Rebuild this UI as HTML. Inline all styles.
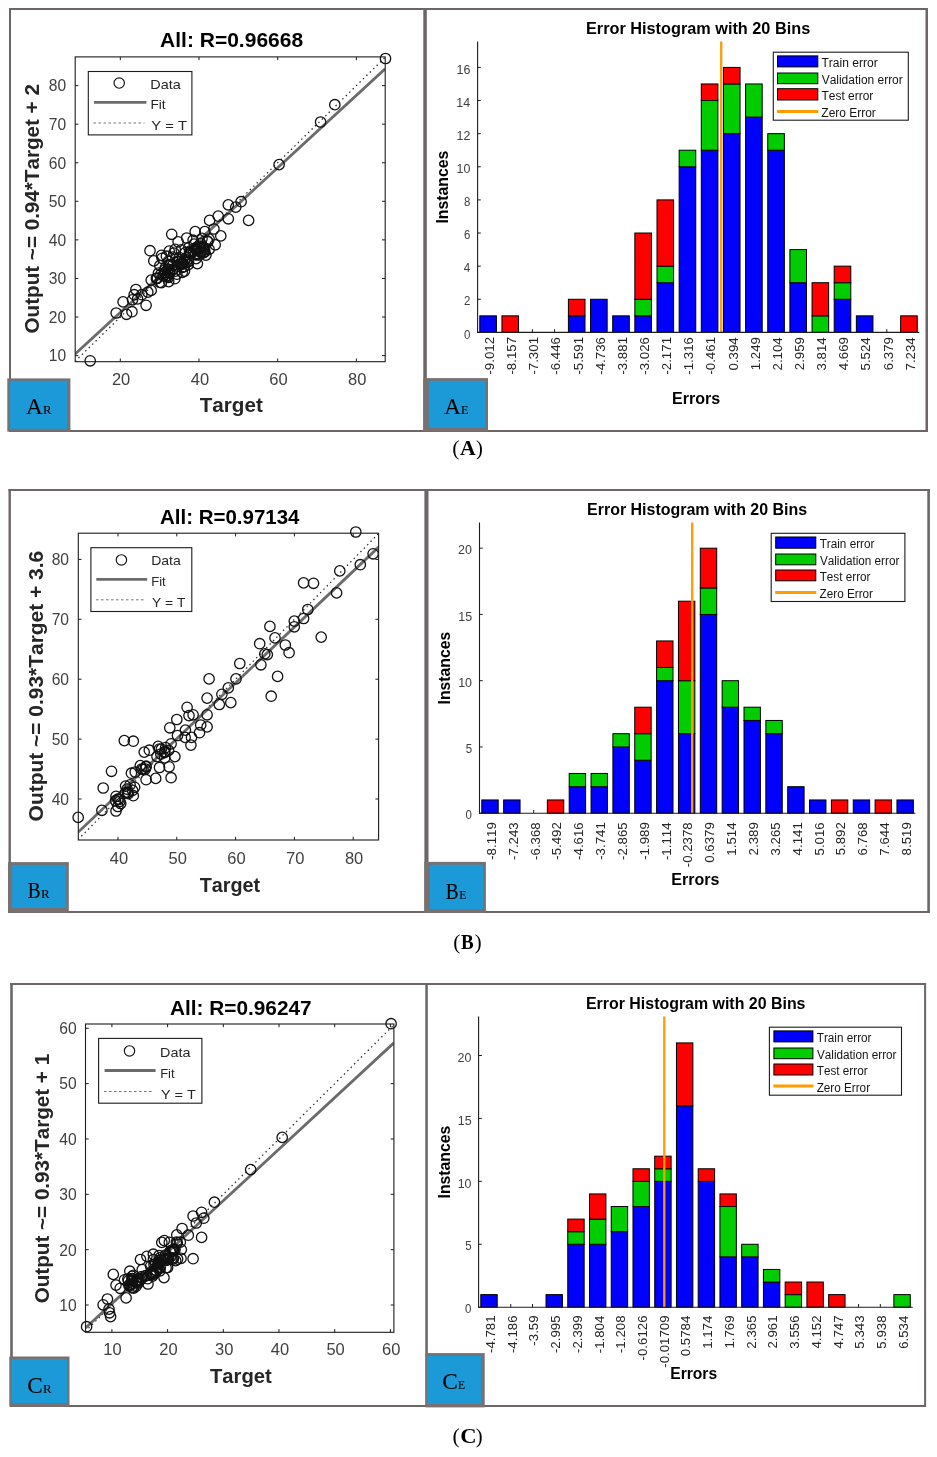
<!DOCTYPE html>
<html><head><meta charset="utf-8"><style>
html,body{margin:0;padding:0;background:#fff;}
svg{display:block;filter:blur(0.4px);}
text{font-kerning:none;}
</style></head><body>
<svg width="937" height="1457" viewBox="0 0 937 1457">
<rect x="0" y="0" width="937" height="1457" fill="#fff"/>
<rect x="9.00" y="8.00" width="919.00" height="2.00" fill="#6d6566"/>
<rect x="9.00" y="430.00" width="919.00" height="2.00" fill="#6d6566"/>
<rect x="9.00" y="8.00" width="2.00" height="424.00" fill="#6d6566"/>
<rect x="925.50" y="8.00" width="2.50" height="424.00" fill="#6d6566"/>
<rect x="423.30" y="8.00" width="3.50" height="424.00" fill="#6d6566"/>
<rect x="8.50" y="489.00" width="921.40" height="2.00" fill="#6d6566"/>
<rect x="8.50" y="911.00" width="921.40" height="2.00" fill="#6d6566"/>
<rect x="8.50" y="489.00" width="2.40" height="424.00" fill="#6d6566"/>
<rect x="927.30" y="489.00" width="2.60" height="424.00" fill="#6d6566"/>
<rect x="424.40" y="489.00" width="4.10" height="424.00" fill="#6d6566"/>
<rect x="10.20" y="983.00" width="915.90" height="2.00" fill="#6d6566"/>
<rect x="10.20" y="1405.00" width="915.90" height="2.00" fill="#6d6566"/>
<rect x="10.20" y="983.00" width="2.60" height="424.00" fill="#6d6566"/>
<rect x="924.10" y="983.00" width="2.00" height="424.00" fill="#6d6566"/>
<rect x="425.30" y="983.00" width="2.50" height="424.00" fill="#6d6566"/>
<clipPath id="ca"><rect x="75.2" y="56.9" width="310.0" height="304.8"/></clipPath>
<g clip-path="url(#ca)">
<line x1="75.05" y1="361.39" x2="385.52" y2="57.07" stroke="#222" stroke-width="1.25" stroke-dasharray="1.4 3.4"/>
<line x1="75.20" y1="354.00" x2="385.20" y2="68.80" stroke="#6b6b6b" stroke-width="2.8" />
</g>
<g fill="none" stroke="#111" stroke-width="1.3"><circle cx="90.2" cy="360.8" r="5.2"/><circle cx="116.2" cy="313.0" r="5.2"/><circle cx="123.1" cy="301.9" r="5.2"/><circle cx="126.5" cy="314.3" r="5.2"/><circle cx="132.0" cy="311.7" r="5.2"/><circle cx="146.1" cy="305.3" r="5.2"/><circle cx="135.9" cy="289.5" r="5.2"/><circle cx="134.2" cy="294.7" r="5.2"/><circle cx="137.6" cy="298.9" r="5.2"/><circle cx="132.5" cy="299.8" r="5.2"/><circle cx="141.8" cy="294.7" r="5.2"/><circle cx="151.2" cy="290.4" r="5.2"/><circle cx="147.8" cy="292.1" r="5.2"/><circle cx="151.2" cy="280.1" r="5.2"/><circle cx="150.0" cy="250.7" r="5.2"/><circle cx="153.8" cy="260.9" r="5.2"/><circle cx="161.5" cy="255.4" r="5.2"/><circle cx="159.8" cy="265.6" r="5.2"/><circle cx="161.5" cy="282.7" r="5.2"/><circle cx="156.4" cy="278.4" r="5.2"/><circle cx="166.6" cy="275.9" r="5.2"/><circle cx="169.2" cy="251.1" r="5.2"/><circle cx="175.2" cy="249.4" r="5.2"/><circle cx="168.3" cy="261.3" r="5.2"/><circle cx="172.6" cy="269.9" r="5.2"/><circle cx="176.9" cy="274.2" r="5.2"/><circle cx="164.9" cy="269.9" r="5.2"/><circle cx="176.9" cy="261.3" r="5.2"/><circle cx="172.6" cy="257.1" r="5.2"/><circle cx="228.3" cy="204.9" r="5.2"/><circle cx="235.8" cy="207.1" r="5.2"/><circle cx="241.1" cy="201.7" r="5.2"/><circle cx="248.6" cy="220.4" r="5.2"/><circle cx="218.2" cy="216.1" r="5.2"/><circle cx="209.6" cy="220.4" r="5.2"/><circle cx="228.3" cy="218.8" r="5.2"/><circle cx="213.9" cy="229.0" r="5.2"/><circle cx="220.8" cy="235.9" r="5.2"/><circle cx="171.7" cy="234.3" r="5.2"/><circle cx="178.1" cy="241.8" r="5.2"/><circle cx="195.2" cy="231.6" r="5.2"/><circle cx="204.8" cy="231.6" r="5.2"/><circle cx="186.7" cy="238.0" r="5.2"/><circle cx="209.1" cy="239.1" r="5.2"/><circle cx="204.8" cy="251.9" r="5.2"/><circle cx="205.9" cy="255.1" r="5.2"/><circle cx="197.4" cy="263.6" r="5.2"/><circle cx="184.5" cy="271.1" r="5.2"/><circle cx="193.1" cy="240.2" r="5.2"/><circle cx="200.6" cy="243.4" r="5.2"/><circle cx="195.2" cy="248.7" r="5.2"/><circle cx="188.8" cy="247.6" r="5.2"/><circle cx="181.3" cy="249.8" r="5.2"/><circle cx="173.9" cy="253.0" r="5.2"/><circle cx="166.4" cy="256.2" r="5.2"/><circle cx="162.1" cy="258.3" r="5.2"/><circle cx="385.5" cy="58.5" r="5.2"/><circle cx="334.8" cy="104.7" r="5.2"/><circle cx="320.6" cy="122.0" r="5.2"/><circle cx="279.1" cy="164.6" r="5.2"/><circle cx="182.3" cy="272.3" r="5.2"/><circle cx="168.7" cy="281.6" r="5.2"/><circle cx="196.8" cy="247.1" r="5.2"/><circle cx="184.3" cy="261.1" r="5.2"/><circle cx="196.1" cy="258.6" r="5.2"/><circle cx="158.4" cy="273.1" r="5.2"/><circle cx="202.5" cy="246.2" r="5.2"/><circle cx="194.2" cy="244.0" r="5.2"/><circle cx="184.3" cy="266.6" r="5.2"/><circle cx="174.8" cy="278.7" r="5.2"/><circle cx="202.0" cy="238.4" r="5.2"/><circle cx="159.8" cy="282.4" r="5.2"/><circle cx="207.5" cy="241.1" r="5.2"/><circle cx="168.9" cy="272.7" r="5.2"/><circle cx="156.8" cy="278.3" r="5.2"/><circle cx="181.6" cy="264.1" r="5.2"/><circle cx="167.9" cy="269.6" r="5.2"/><circle cx="169.4" cy="273.1" r="5.2"/><circle cx="168.9" cy="264.6" r="5.2"/><circle cx="203.8" cy="247.7" r="5.2"/><circle cx="189.6" cy="251.4" r="5.2"/><circle cx="215.2" cy="244.8" r="5.2"/><circle cx="162.9" cy="275.7" r="5.2"/><circle cx="199.1" cy="254.6" r="5.2"/><circle cx="207.8" cy="241.8" r="5.2"/><circle cx="204.5" cy="249.4" r="5.2"/><circle cx="175.3" cy="271.1" r="5.2"/><circle cx="209.1" cy="249.4" r="5.2"/><circle cx="186.2" cy="262.4" r="5.2"/><circle cx="157.3" cy="278.3" r="5.2"/><circle cx="200.2" cy="247.6" r="5.2"/><circle cx="167.8" cy="276.2" r="5.2"/><circle cx="197.7" cy="255.0" r="5.2"/><circle cx="177.6" cy="266.1" r="5.2"/><circle cx="188.2" cy="264.6" r="5.2"/><circle cx="185.1" cy="259.3" r="5.2"/><circle cx="180.2" cy="264.4" r="5.2"/><circle cx="196.9" cy="249.9" r="5.2"/><circle cx="182.4" cy="263.1" r="5.2"/><circle cx="169.9" cy="271.8" r="5.2"/><circle cx="188.5" cy="261.5" r="5.2"/><circle cx="165.0" cy="272.4" r="5.2"/><circle cx="168.6" cy="277.3" r="5.2"/><circle cx="185.3" cy="252.6" r="5.2"/><circle cx="202.8" cy="252.9" r="5.2"/><circle cx="188.1" cy="259.1" r="5.2"/><circle cx="165.2" cy="267.9" r="5.2"/><circle cx="179.3" cy="257.5" r="5.2"/><circle cx="168.1" cy="269.0" r="5.2"/><circle cx="163.8" cy="275.8" r="5.2"/><circle cx="181.8" cy="267.5" r="5.2"/><circle cx="183.2" cy="263.3" r="5.2"/><circle cx="182.7" cy="264.0" r="5.2"/><circle cx="178.3" cy="261.6" r="5.2"/><circle cx="203.6" cy="252.7" r="5.2"/><circle cx="195.6" cy="254.6" r="5.2"/><circle cx="172.7" cy="265.3" r="5.2"/><circle cx="170.5" cy="264.6" r="5.2"/><circle cx="190.6" cy="253.8" r="5.2"/><circle cx="193.5" cy="251.4" r="5.2"/><circle cx="201.0" cy="252.5" r="5.2"/><circle cx="160.9" cy="274.2" r="5.2"/><circle cx="196.5" cy="250.3" r="5.2"/><circle cx="198.5" cy="247.6" r="5.2"/><circle cx="166.7" cy="276.1" r="5.2"/><circle cx="190.1" cy="252.2" r="5.2"/><circle cx="165.0" cy="272.9" r="5.2"/><circle cx="200.6" cy="251.5" r="5.2"/></g>
<rect x="75.2" y="56.9" width="310.0" height="304.8" fill="none" stroke="#1c1c1c" stroke-width="1.1"/>
<line x1="120.30" y1="361.70" x2="120.30" y2="358.50" stroke="#1c1c1c" stroke-width="1" />
<line x1="120.30" y1="56.90" x2="120.30" y2="60.10" stroke="#1c1c1c" stroke-width="1" />
<text x="111.93" y="384.50" font-family="'Liberation Sans', sans-serif" font-size="16.50" font-weight="normal" fill="#404040" textLength="18.35" lengthAdjust="spacingAndGlyphs" >20</text>
<line x1="199.00" y1="361.70" x2="199.00" y2="358.50" stroke="#1c1c1c" stroke-width="1" />
<line x1="199.00" y1="56.90" x2="199.00" y2="60.10" stroke="#1c1c1c" stroke-width="1" />
<text x="190.86" y="384.50" font-family="'Liberation Sans', sans-serif" font-size="16.50" font-weight="normal" fill="#404040" textLength="18.35" lengthAdjust="spacingAndGlyphs" >40</text>
<line x1="277.70" y1="361.70" x2="277.70" y2="358.50" stroke="#1c1c1c" stroke-width="1" />
<line x1="277.70" y1="56.90" x2="277.70" y2="60.10" stroke="#1c1c1c" stroke-width="1" />
<text x="269.33" y="384.50" font-family="'Liberation Sans', sans-serif" font-size="16.50" font-weight="normal" fill="#404040" textLength="18.35" lengthAdjust="spacingAndGlyphs" >60</text>
<line x1="356.40" y1="361.70" x2="356.40" y2="358.50" stroke="#1c1c1c" stroke-width="1" />
<line x1="356.40" y1="56.90" x2="356.40" y2="60.10" stroke="#1c1c1c" stroke-width="1" />
<text x="348.09" y="384.50" font-family="'Liberation Sans', sans-serif" font-size="16.50" font-weight="normal" fill="#404040" textLength="18.35" lengthAdjust="spacingAndGlyphs" >80</text>
<line x1="75.20" y1="355.60" x2="78.40" y2="355.60" stroke="#1c1c1c" stroke-width="1" />
<line x1="385.20" y1="355.60" x2="382.00" y2="355.60" stroke="#1c1c1c" stroke-width="1" />
<text x="48.81" y="361.44" font-family="'Liberation Sans', sans-serif" font-size="16.50" font-weight="normal" fill="#404040" textLength="17.35" lengthAdjust="spacingAndGlyphs" >10</text>
<line x1="75.20" y1="317.03" x2="78.40" y2="317.03" stroke="#1c1c1c" stroke-width="1" />
<line x1="385.20" y1="317.03" x2="382.00" y2="317.03" stroke="#1c1c1c" stroke-width="1" />
<text x="48.79" y="322.87" font-family="'Liberation Sans', sans-serif" font-size="16.50" font-weight="normal" fill="#404040" textLength="17.37" lengthAdjust="spacingAndGlyphs" >20</text>
<line x1="75.20" y1="278.46" x2="78.40" y2="278.46" stroke="#1c1c1c" stroke-width="1" />
<line x1="385.20" y1="278.46" x2="382.00" y2="278.46" stroke="#1c1c1c" stroke-width="1" />
<text x="48.77" y="284.30" font-family="'Liberation Sans', sans-serif" font-size="16.50" font-weight="normal" fill="#404040" textLength="17.39" lengthAdjust="spacingAndGlyphs" >30</text>
<line x1="75.20" y1="239.89" x2="78.40" y2="239.89" stroke="#1c1c1c" stroke-width="1" />
<line x1="385.20" y1="239.89" x2="382.00" y2="239.89" stroke="#1c1c1c" stroke-width="1" />
<text x="48.76" y="245.73" font-family="'Liberation Sans', sans-serif" font-size="16.50" font-weight="normal" fill="#404040" textLength="17.40" lengthAdjust="spacingAndGlyphs" >40</text>
<line x1="75.20" y1="201.32" x2="78.40" y2="201.32" stroke="#1c1c1c" stroke-width="1" />
<line x1="385.20" y1="201.32" x2="382.00" y2="201.32" stroke="#1c1c1c" stroke-width="1" />
<text x="48.78" y="207.16" font-family="'Liberation Sans', sans-serif" font-size="16.50" font-weight="normal" fill="#404040" textLength="17.38" lengthAdjust="spacingAndGlyphs" >50</text>
<line x1="75.20" y1="162.75" x2="78.40" y2="162.75" stroke="#1c1c1c" stroke-width="1" />
<line x1="385.20" y1="162.75" x2="382.00" y2="162.75" stroke="#1c1c1c" stroke-width="1" />
<text x="48.79" y="168.59" font-family="'Liberation Sans', sans-serif" font-size="16.50" font-weight="normal" fill="#404040" textLength="17.37" lengthAdjust="spacingAndGlyphs" >60</text>
<line x1="75.20" y1="124.18" x2="78.40" y2="124.18" stroke="#1c1c1c" stroke-width="1" />
<line x1="385.20" y1="124.18" x2="382.00" y2="124.18" stroke="#1c1c1c" stroke-width="1" />
<text x="48.79" y="130.02" font-family="'Liberation Sans', sans-serif" font-size="16.50" font-weight="normal" fill="#404040" textLength="17.37" lengthAdjust="spacingAndGlyphs" >70</text>
<line x1="75.20" y1="85.61" x2="78.40" y2="85.61" stroke="#1c1c1c" stroke-width="1" />
<line x1="385.20" y1="85.61" x2="382.00" y2="85.61" stroke="#1c1c1c" stroke-width="1" />
<text x="48.78" y="91.45" font-family="'Liberation Sans', sans-serif" font-size="16.50" font-weight="normal" fill="#404040" textLength="17.38" lengthAdjust="spacingAndGlyphs" >80</text>
<rect x="88.3" y="71.5" width="103.60000000000001" height="63.400000000000006" fill="#fff" stroke="#1c1c1c" stroke-width="1.1"/>
<circle cx="119.2" cy="83.0" r="5.2" fill="none" stroke="#111" stroke-width="1.15"/>
<line x1="93.90" y1="102.40" x2="146.40" y2="102.40" stroke="#6b6b6b" stroke-width="2.8" />
<line x1="93.50" y1="123.00" x2="144.50" y2="123.00" stroke="#666" stroke-width="0.9" stroke-dasharray="2.6 2.4"/>
<text x="150.37" y="88.80" font-family="'Liberation Sans', sans-serif" font-size="13.00" font-weight="normal" fill="#262626" textLength="30.48" lengthAdjust="spacingAndGlyphs" >Data</text>
<text x="150.43" y="109.30" font-family="'Liberation Sans', sans-serif" font-size="13.00" font-weight="normal" fill="#262626" textLength="15.12" lengthAdjust="spacingAndGlyphs" >Fit</text>
<text x="151.22" y="129.90" font-family="'Liberation Sans', sans-serif" font-size="13.00" font-weight="normal" fill="#262626" textLength="35.76" lengthAdjust="spacingAndGlyphs" >Y = T</text>
<text x="160.13" y="46.90" font-family="'Liberation Sans', sans-serif" font-size="19.50" font-weight="bold" fill="#000" textLength="142.97" lengthAdjust="spacingAndGlyphs" >All: R=0.96668</text>
<text x="199.72" y="411.80" font-family="'Liberation Sans', sans-serif" font-size="20.50" font-weight="bold" fill="#262626" textLength="63.08" lengthAdjust="spacingAndGlyphs" >Target</text>
<text transform="translate(38.90 332.65) rotate(-90)" x="-0.85" y="0" font-family="'Liberation Sans', sans-serif" font-size="20.50" font-weight="bold" fill="#262626" textLength="249.37" lengthAdjust="spacingAndGlyphs" >Output ~= 0.94*Target + 2</text>
<clipPath id="cb"><rect x="78.3" y="533.2" width="300.3" height="306.79999999999995"/></clipPath>
<g clip-path="url(#cb)">
<line x1="78.02" y1="839.73" x2="378.78" y2="533.34" stroke="#222" stroke-width="1.25" stroke-dasharray="1.4 3.4"/>
<line x1="78.30" y1="832.10" x2="378.60" y2="547.10" stroke="#6b6b6b" stroke-width="2.8" />
</g>
<g fill="none" stroke="#111" stroke-width="1.3"><circle cx="78.2" cy="817.4" r="5.2"/><circle cx="101.9" cy="810.4" r="5.2"/><circle cx="103.2" cy="788.0" r="5.2"/><circle cx="111.5" cy="771.3" r="5.2"/><circle cx="124.3" cy="740.6" r="5.2"/><circle cx="133.3" cy="741.2" r="5.2"/><circle cx="116.0" cy="811.0" r="5.2"/><circle cx="117.9" cy="806.5" r="5.2"/><circle cx="116.0" cy="796.3" r="5.2"/><circle cx="119.8" cy="801.4" r="5.2"/><circle cx="125.6" cy="786.1" r="5.2"/><circle cx="130.1" cy="784.8" r="5.2"/><circle cx="134.6" cy="787.3" r="5.2"/><circle cx="133.3" cy="795.7" r="5.2"/><circle cx="127.5" cy="792.5" r="5.2"/><circle cx="131.4" cy="773.2" r="5.2"/><circle cx="135.2" cy="772.0" r="5.2"/><circle cx="140.3" cy="765.6" r="5.2"/><circle cx="146.1" cy="766.8" r="5.2"/><circle cx="146.1" cy="779.7" r="5.2"/><circle cx="155.7" cy="778.4" r="5.2"/><circle cx="144.2" cy="752.1" r="5.2"/><circle cx="149.3" cy="750.2" r="5.2"/><circle cx="158.2" cy="746.4" r="5.2"/><circle cx="160.8" cy="754.0" r="5.2"/><circle cx="164.7" cy="751.5" r="5.2"/><circle cx="159.5" cy="767.5" r="5.2"/><circle cx="169.1" cy="766.8" r="5.2"/><circle cx="171.1" cy="777.7" r="5.2"/><circle cx="174.9" cy="756.6" r="5.2"/><circle cx="171.1" cy="743.8" r="5.2"/><circle cx="169.8" cy="727.8" r="5.2"/><circle cx="176.8" cy="719.5" r="5.2"/><circle cx="177.5" cy="735.5" r="5.2"/><circle cx="187.1" cy="707.3" r="5.2"/><circle cx="189.0" cy="715.6" r="5.2"/><circle cx="185.1" cy="737.4" r="5.2"/><circle cx="190.9" cy="745.1" r="5.2"/><circle cx="191.5" cy="737.4" r="5.2"/><circle cx="157.0" cy="756.6" r="5.2"/><circle cx="164.7" cy="757.9" r="5.2"/><circle cx="269.9" cy="626.4" r="5.2"/><circle cx="275.0" cy="637.9" r="5.2"/><circle cx="259.7" cy="643.7" r="5.2"/><circle cx="285.3" cy="645.0" r="5.2"/><circle cx="289.1" cy="652.7" r="5.2"/><circle cx="264.8" cy="653.9" r="5.2"/><circle cx="267.3" cy="654.6" r="5.2"/><circle cx="260.9" cy="664.8" r="5.2"/><circle cx="239.8" cy="663.5" r="5.2"/><circle cx="277.6" cy="676.4" r="5.2"/><circle cx="271.2" cy="696.2" r="5.2"/><circle cx="236.0" cy="678.9" r="5.2"/><circle cx="228.3" cy="687.9" r="5.2"/><circle cx="221.9" cy="694.3" r="5.2"/><circle cx="209.1" cy="678.9" r="5.2"/><circle cx="207.1" cy="698.1" r="5.2"/><circle cx="219.3" cy="704.5" r="5.2"/><circle cx="230.8" cy="702.6" r="5.2"/><circle cx="193.1" cy="714.8" r="5.2"/><circle cx="207.1" cy="714.8" r="5.2"/><circle cx="200.7" cy="725.0" r="5.2"/><circle cx="207.1" cy="726.9" r="5.2"/><circle cx="199.5" cy="732.7" r="5.2"/><circle cx="185.4" cy="730.1" r="5.2"/><circle cx="355.8" cy="532.0" r="5.2"/><circle cx="373.1" cy="553.8" r="5.2"/><circle cx="360.3" cy="564.7" r="5.2"/><circle cx="339.8" cy="570.9" r="5.2"/><circle cx="303.6" cy="582.9" r="5.2"/><circle cx="313.5" cy="583.3" r="5.2"/><circle cx="336.6" cy="592.9" r="5.2"/><circle cx="307.8" cy="609.5" r="5.2"/><circle cx="303.6" cy="618.5" r="5.2"/><circle cx="294.3" cy="621.1" r="5.2"/><circle cx="294.3" cy="626.8" r="5.2"/><circle cx="321.2" cy="637.1" r="5.2"/><circle cx="168.6" cy="750.4" r="5.2"/><circle cx="164.6" cy="752.6" r="5.2"/><circle cx="165.6" cy="747.6" r="5.2"/><circle cx="161.4" cy="749.1" r="5.2"/><circle cx="159.3" cy="749.1" r="5.2"/><circle cx="128.3" cy="793.7" r="5.2"/><circle cx="125.3" cy="792.8" r="5.2"/><circle cx="127.1" cy="789.1" r="5.2"/><circle cx="132.6" cy="790.4" r="5.2"/><circle cx="127.9" cy="792.4" r="5.2"/><circle cx="143.1" cy="769.3" r="5.2"/><circle cx="141.7" cy="769.0" r="5.2"/><circle cx="145.3" cy="769.0" r="5.2"/><circle cx="146.1" cy="766.2" r="5.2"/><circle cx="115.5" cy="800.6" r="5.2"/><circle cx="119.1" cy="799.3" r="5.2"/><circle cx="117.8" cy="799.2" r="5.2"/><circle cx="120.7" cy="803.5" r="5.2"/></g>
<rect x="78.3" y="533.2" width="300.3" height="306.79999999999995" fill="none" stroke="#1c1c1c" stroke-width="1.1"/>
<line x1="118.00" y1="840.00" x2="118.00" y2="836.80" stroke="#1c1c1c" stroke-width="1" />
<line x1="118.00" y1="533.20" x2="118.00" y2="536.40" stroke="#1c1c1c" stroke-width="1" />
<text x="109.86" y="863.60" font-family="'Liberation Sans', sans-serif" font-size="16.50" font-weight="normal" fill="#404040" textLength="18.35" lengthAdjust="spacingAndGlyphs" >40</text>
<line x1="176.80" y1="840.00" x2="176.80" y2="836.80" stroke="#1c1c1c" stroke-width="1" />
<line x1="176.80" y1="533.20" x2="176.80" y2="536.40" stroke="#1c1c1c" stroke-width="1" />
<text x="168.52" y="863.60" font-family="'Liberation Sans', sans-serif" font-size="16.50" font-weight="normal" fill="#404040" textLength="18.35" lengthAdjust="spacingAndGlyphs" >50</text>
<line x1="235.60" y1="840.00" x2="235.60" y2="836.80" stroke="#1c1c1c" stroke-width="1" />
<line x1="235.60" y1="533.20" x2="235.60" y2="536.40" stroke="#1c1c1c" stroke-width="1" />
<text x="227.23" y="863.60" font-family="'Liberation Sans', sans-serif" font-size="16.50" font-weight="normal" fill="#404040" textLength="18.35" lengthAdjust="spacingAndGlyphs" >60</text>
<line x1="294.40" y1="840.00" x2="294.40" y2="836.80" stroke="#1c1c1c" stroke-width="1" />
<line x1="294.40" y1="533.20" x2="294.40" y2="536.40" stroke="#1c1c1c" stroke-width="1" />
<text x="286.02" y="863.60" font-family="'Liberation Sans', sans-serif" font-size="16.50" font-weight="normal" fill="#404040" textLength="18.35" lengthAdjust="spacingAndGlyphs" >70</text>
<line x1="353.20" y1="840.00" x2="353.20" y2="836.80" stroke="#1c1c1c" stroke-width="1" />
<line x1="353.20" y1="533.20" x2="353.20" y2="536.40" stroke="#1c1c1c" stroke-width="1" />
<text x="344.89" y="863.60" font-family="'Liberation Sans', sans-serif" font-size="16.50" font-weight="normal" fill="#404040" textLength="18.35" lengthAdjust="spacingAndGlyphs" >80</text>
<line x1="78.30" y1="799.00" x2="81.50" y2="799.00" stroke="#1c1c1c" stroke-width="1" />
<line x1="378.60" y1="799.00" x2="375.40" y2="799.00" stroke="#1c1c1c" stroke-width="1" />
<text x="51.66" y="804.84" font-family="'Liberation Sans', sans-serif" font-size="16.50" font-weight="normal" fill="#404040" textLength="17.40" lengthAdjust="spacingAndGlyphs" >40</text>
<line x1="78.30" y1="739.10" x2="81.50" y2="739.10" stroke="#1c1c1c" stroke-width="1" />
<line x1="378.60" y1="739.10" x2="375.40" y2="739.10" stroke="#1c1c1c" stroke-width="1" />
<text x="51.68" y="744.94" font-family="'Liberation Sans', sans-serif" font-size="16.50" font-weight="normal" fill="#404040" textLength="17.38" lengthAdjust="spacingAndGlyphs" >50</text>
<line x1="78.30" y1="679.20" x2="81.50" y2="679.20" stroke="#1c1c1c" stroke-width="1" />
<line x1="378.60" y1="679.20" x2="375.40" y2="679.20" stroke="#1c1c1c" stroke-width="1" />
<text x="51.69" y="685.04" font-family="'Liberation Sans', sans-serif" font-size="16.50" font-weight="normal" fill="#404040" textLength="17.37" lengthAdjust="spacingAndGlyphs" >60</text>
<line x1="78.30" y1="619.30" x2="81.50" y2="619.30" stroke="#1c1c1c" stroke-width="1" />
<line x1="378.60" y1="619.30" x2="375.40" y2="619.30" stroke="#1c1c1c" stroke-width="1" />
<text x="51.69" y="625.14" font-family="'Liberation Sans', sans-serif" font-size="16.50" font-weight="normal" fill="#404040" textLength="17.37" lengthAdjust="spacingAndGlyphs" >70</text>
<line x1="78.30" y1="559.40" x2="81.50" y2="559.40" stroke="#1c1c1c" stroke-width="1" />
<line x1="378.60" y1="559.40" x2="375.40" y2="559.40" stroke="#1c1c1c" stroke-width="1" />
<text x="51.68" y="565.24" font-family="'Liberation Sans', sans-serif" font-size="16.50" font-weight="normal" fill="#404040" textLength="17.38" lengthAdjust="spacingAndGlyphs" >80</text>
<rect x="90.9" y="547.7" width="100.9" height="63.799999999999955" fill="#fff" stroke="#1c1c1c" stroke-width="1.1"/>
<circle cx="121.4" cy="559.9" r="5.2" fill="none" stroke="#111" stroke-width="1.15"/>
<line x1="96.30" y1="579.40" x2="147.20" y2="579.40" stroke="#6b6b6b" stroke-width="2.8" />
<line x1="96.00" y1="599.80" x2="144.90" y2="599.80" stroke="#666" stroke-width="0.9" stroke-dasharray="2.6 2.4"/>
<text x="151.20" y="565.30" font-family="'Liberation Sans', sans-serif" font-size="13.00" font-weight="normal" fill="#262626" textLength="29.65" lengthAdjust="spacingAndGlyphs" >Data</text>
<text x="151.28" y="586.40" font-family="'Liberation Sans', sans-serif" font-size="13.00" font-weight="normal" fill="#262626" textLength="14.44" lengthAdjust="spacingAndGlyphs" >Fit</text>
<text x="152.05" y="606.80" font-family="'Liberation Sans', sans-serif" font-size="13.00" font-weight="normal" fill="#262626" textLength="33.32" lengthAdjust="spacingAndGlyphs" >Y = T</text>
<text x="160.04" y="523.50" font-family="'Liberation Sans', sans-serif" font-size="19.50" font-weight="bold" fill="#000" textLength="139.42" lengthAdjust="spacingAndGlyphs" >All: R=0.97134</text>
<text x="199.73" y="891.50" font-family="'Liberation Sans', sans-serif" font-size="20.50" font-weight="bold" fill="#262626" textLength="60.46" lengthAdjust="spacingAndGlyphs" >Target</text>
<text transform="translate(42.60 820.55) rotate(-90)" x="-0.86" y="0" font-family="'Liberation Sans', sans-serif" font-size="20.50" font-weight="bold" fill="#262626" textLength="270.62" lengthAdjust="spacingAndGlyphs" >Output ~= 0.93*Target + 3.6</text>
<clipPath id="cc"><rect x="85.5" y="1024.0" width="308.4" height="308.29999999999995"/></clipPath>
<g clip-path="url(#cc)">
<line x1="85.16" y1="1331.56" x2="394.30" y2="1024.43" stroke="#222" stroke-width="1.25" stroke-dasharray="1.4 3.4"/>
<line x1="85.50" y1="1328.00" x2="393.90" y2="1042.90" stroke="#6b6b6b" stroke-width="2.8" />
</g>
<g fill="none" stroke="#111" stroke-width="1.3"><circle cx="86.6" cy="1326.7" r="5.2"/><circle cx="107.4" cy="1299.0" r="5.2"/><circle cx="103.1" cy="1304.8" r="5.2"/><circle cx="109.5" cy="1312.8" r="5.2"/><circle cx="110.6" cy="1316.6" r="5.2"/><circle cx="109.0" cy="1309.1" r="5.2"/><circle cx="113.3" cy="1274.4" r="5.2"/><circle cx="116.0" cy="1285.1" r="5.2"/><circle cx="126.1" cy="1297.9" r="5.2"/><circle cx="120.2" cy="1288.3" r="5.2"/><circle cx="124.5" cy="1279.8" r="5.2"/><circle cx="129.8" cy="1271.2" r="5.2"/><circle cx="136.2" cy="1286.2" r="5.2"/><circle cx="164.0" cy="1277.6" r="5.2"/><circle cx="148.0" cy="1284.0" r="5.2"/><circle cx="140.5" cy="1259.5" r="5.2"/><circle cx="146.9" cy="1256.3" r="5.2"/><circle cx="153.3" cy="1254.2" r="5.2"/><circle cx="161.8" cy="1242.4" r="5.2"/><circle cx="169.3" cy="1242.4" r="5.2"/><circle cx="176.8" cy="1234.9" r="5.2"/><circle cx="182.1" cy="1228.5" r="5.2"/><circle cx="175.7" cy="1260.6" r="5.2"/><circle cx="181.0" cy="1258.4" r="5.2"/><circle cx="170.4" cy="1252.0" r="5.2"/><circle cx="250.7" cy="1169.6" r="5.2"/><circle cx="214.4" cy="1202.2" r="5.2"/><circle cx="201.6" cy="1212.3" r="5.2"/><circle cx="193.1" cy="1216.0" r="5.2"/><circle cx="203.8" cy="1218.2" r="5.2"/><circle cx="196.3" cy="1223.0" r="5.2"/><circle cx="201.6" cy="1237.4" r="5.2"/><circle cx="188.3" cy="1235.2" r="5.2"/><circle cx="164.3" cy="1240.6" r="5.2"/><circle cx="180.3" cy="1242.2" r="5.2"/><circle cx="181.3" cy="1249.6" r="5.2"/><circle cx="193.1" cy="1258.7" r="5.2"/><circle cx="391.1" cy="1023.7" r="5.2"/><circle cx="282.2" cy="1137.4" r="5.2"/><circle cx="142.2" cy="1269.6" r="5.2"/><circle cx="159.1" cy="1255.5" r="5.2"/><circle cx="155.7" cy="1263.8" r="5.2"/><circle cx="131.2" cy="1284.8" r="5.2"/><circle cx="129.4" cy="1284.6" r="5.2"/><circle cx="127.9" cy="1278.9" r="5.2"/><circle cx="154.0" cy="1274.2" r="5.2"/><circle cx="132.0" cy="1278.5" r="5.2"/><circle cx="166.1" cy="1267.7" r="5.2"/><circle cx="158.2" cy="1262.6" r="5.2"/><circle cx="176.4" cy="1242.1" r="5.2"/><circle cx="172.4" cy="1250.0" r="5.2"/><circle cx="132.1" cy="1276.3" r="5.2"/><circle cx="147.7" cy="1278.7" r="5.2"/><circle cx="138.5" cy="1280.8" r="5.2"/><circle cx="161.3" cy="1259.8" r="5.2"/><circle cx="153.4" cy="1259.5" r="5.2"/><circle cx="128.4" cy="1280.8" r="5.2"/><circle cx="164.1" cy="1258.9" r="5.2"/><circle cx="145.8" cy="1275.5" r="5.2"/><circle cx="150.6" cy="1266.3" r="5.2"/><circle cx="172.8" cy="1257.8" r="5.2"/><circle cx="141.9" cy="1278.2" r="5.2"/><circle cx="159.9" cy="1270.8" r="5.2"/><circle cx="165.4" cy="1255.1" r="5.2"/><circle cx="177.3" cy="1242.9" r="5.2"/><circle cx="153.0" cy="1273.6" r="5.2"/><circle cx="136.1" cy="1280.8" r="5.2"/><circle cx="131.7" cy="1287.6" r="5.2"/><circle cx="170.0" cy="1257.4" r="5.2"/><circle cx="173.5" cy="1249.6" r="5.2"/><circle cx="166.4" cy="1260.4" r="5.2"/><circle cx="158.9" cy="1263.2" r="5.2"/><circle cx="177.6" cy="1259.1" r="5.2"/><circle cx="155.2" cy="1270.1" r="5.2"/><circle cx="133.2" cy="1287.2" r="5.2"/><circle cx="167.6" cy="1267.5" r="5.2"/><circle cx="170.3" cy="1251.4" r="5.2"/><circle cx="150.4" cy="1273.7" r="5.2"/><circle cx="128.9" cy="1285.6" r="5.2"/><circle cx="133.4" cy="1275.4" r="5.2"/><circle cx="133.7" cy="1288.1" r="5.2"/><circle cx="132.6" cy="1278.6" r="5.2"/><circle cx="152.6" cy="1276.1" r="5.2"/><circle cx="131.9" cy="1283.1" r="5.2"/><circle cx="157.8" cy="1267.8" r="5.2"/><circle cx="175.0" cy="1249.5" r="5.2"/><circle cx="168.4" cy="1259.2" r="5.2"/><circle cx="160.2" cy="1257.6" r="5.2"/><circle cx="132.6" cy="1280.2" r="5.2"/><circle cx="164.9" cy="1256.1" r="5.2"/><circle cx="154.0" cy="1264.5" r="5.2"/><circle cx="173.5" cy="1258.6" r="5.2"/><circle cx="153.3" cy="1273.2" r="5.2"/><circle cx="136.6" cy="1282.6" r="5.2"/><circle cx="170.3" cy="1251.1" r="5.2"/><circle cx="164.8" cy="1259.9" r="5.2"/><circle cx="174.3" cy="1249.1" r="5.2"/><circle cx="159.0" cy="1267.9" r="5.2"/><circle cx="160.3" cy="1260.0" r="5.2"/><circle cx="138.3" cy="1283.0" r="5.2"/><circle cx="156.6" cy="1270.9" r="5.2"/><circle cx="140.3" cy="1280.0" r="5.2"/><circle cx="171.8" cy="1259.4" r="5.2"/><circle cx="132.1" cy="1280.4" r="5.2"/><circle cx="135.8" cy="1282.4" r="5.2"/><circle cx="150.9" cy="1274.4" r="5.2"/><circle cx="150.8" cy="1272.3" r="5.2"/><circle cx="170.4" cy="1252.1" r="5.2"/><circle cx="160.2" cy="1267.9" r="5.2"/><circle cx="155.4" cy="1264.0" r="5.2"/><circle cx="145.9" cy="1275.8" r="5.2"/><circle cx="141.5" cy="1276.7" r="5.2"/><circle cx="157.9" cy="1264.7" r="5.2"/><circle cx="138.9" cy="1279.2" r="5.2"/></g>
<rect x="85.5" y="1024.0" width="308.4" height="308.29999999999995" fill="none" stroke="#1c1c1c" stroke-width="1.1"/>
<line x1="111.90" y1="1332.30" x2="111.90" y2="1329.10" stroke="#1c1c1c" stroke-width="1" />
<line x1="111.90" y1="1024.00" x2="111.90" y2="1027.20" stroke="#1c1c1c" stroke-width="1" />
<text x="103.32" y="1354.90" font-family="'Liberation Sans', sans-serif" font-size="16.50" font-weight="normal" fill="#404040" textLength="18.35" lengthAdjust="spacingAndGlyphs" >10</text>
<line x1="167.60" y1="1332.30" x2="167.60" y2="1329.10" stroke="#1c1c1c" stroke-width="1" />
<line x1="167.60" y1="1024.00" x2="167.60" y2="1027.20" stroke="#1c1c1c" stroke-width="1" />
<text x="159.23" y="1354.90" font-family="'Liberation Sans', sans-serif" font-size="16.50" font-weight="normal" fill="#404040" textLength="18.35" lengthAdjust="spacingAndGlyphs" >20</text>
<line x1="223.30" y1="1332.30" x2="223.30" y2="1329.10" stroke="#1c1c1c" stroke-width="1" />
<line x1="223.30" y1="1024.00" x2="223.30" y2="1027.20" stroke="#1c1c1c" stroke-width="1" />
<text x="215.03" y="1354.90" font-family="'Liberation Sans', sans-serif" font-size="16.50" font-weight="normal" fill="#404040" textLength="18.35" lengthAdjust="spacingAndGlyphs" >30</text>
<line x1="279.00" y1="1332.30" x2="279.00" y2="1329.10" stroke="#1c1c1c" stroke-width="1" />
<line x1="279.00" y1="1024.00" x2="279.00" y2="1027.20" stroke="#1c1c1c" stroke-width="1" />
<text x="270.86" y="1354.90" font-family="'Liberation Sans', sans-serif" font-size="16.50" font-weight="normal" fill="#404040" textLength="18.35" lengthAdjust="spacingAndGlyphs" >40</text>
<line x1="334.70" y1="1332.30" x2="334.70" y2="1329.10" stroke="#1c1c1c" stroke-width="1" />
<line x1="334.70" y1="1024.00" x2="334.70" y2="1027.20" stroke="#1c1c1c" stroke-width="1" />
<text x="326.42" y="1354.90" font-family="'Liberation Sans', sans-serif" font-size="16.50" font-weight="normal" fill="#404040" textLength="18.35" lengthAdjust="spacingAndGlyphs" >50</text>
<line x1="390.40" y1="1332.30" x2="390.40" y2="1329.10" stroke="#1c1c1c" stroke-width="1" />
<line x1="390.40" y1="1024.00" x2="390.40" y2="1027.20" stroke="#1c1c1c" stroke-width="1" />
<text x="382.03" y="1354.90" font-family="'Liberation Sans', sans-serif" font-size="16.50" font-weight="normal" fill="#404040" textLength="18.35" lengthAdjust="spacingAndGlyphs" >60</text>
<line x1="85.50" y1="1305.00" x2="88.70" y2="1305.00" stroke="#1c1c1c" stroke-width="1" />
<line x1="393.90" y1="1305.00" x2="390.70" y2="1305.00" stroke="#1c1c1c" stroke-width="1" />
<text x="59.31" y="1310.84" font-family="'Liberation Sans', sans-serif" font-size="16.50" font-weight="normal" fill="#404040" textLength="17.35" lengthAdjust="spacingAndGlyphs" >10</text>
<line x1="85.50" y1="1249.66" x2="88.70" y2="1249.66" stroke="#1c1c1c" stroke-width="1" />
<line x1="393.90" y1="1249.66" x2="390.70" y2="1249.66" stroke="#1c1c1c" stroke-width="1" />
<text x="59.29" y="1255.50" font-family="'Liberation Sans', sans-serif" font-size="16.50" font-weight="normal" fill="#404040" textLength="17.37" lengthAdjust="spacingAndGlyphs" >20</text>
<line x1="85.50" y1="1194.32" x2="88.70" y2="1194.32" stroke="#1c1c1c" stroke-width="1" />
<line x1="393.90" y1="1194.32" x2="390.70" y2="1194.32" stroke="#1c1c1c" stroke-width="1" />
<text x="59.27" y="1200.16" font-family="'Liberation Sans', sans-serif" font-size="16.50" font-weight="normal" fill="#404040" textLength="17.39" lengthAdjust="spacingAndGlyphs" >30</text>
<line x1="85.50" y1="1138.98" x2="88.70" y2="1138.98" stroke="#1c1c1c" stroke-width="1" />
<line x1="393.90" y1="1138.98" x2="390.70" y2="1138.98" stroke="#1c1c1c" stroke-width="1" />
<text x="59.26" y="1144.82" font-family="'Liberation Sans', sans-serif" font-size="16.50" font-weight="normal" fill="#404040" textLength="17.40" lengthAdjust="spacingAndGlyphs" >40</text>
<line x1="85.50" y1="1083.64" x2="88.70" y2="1083.64" stroke="#1c1c1c" stroke-width="1" />
<line x1="393.90" y1="1083.64" x2="390.70" y2="1083.64" stroke="#1c1c1c" stroke-width="1" />
<text x="59.28" y="1089.48" font-family="'Liberation Sans', sans-serif" font-size="16.50" font-weight="normal" fill="#404040" textLength="17.38" lengthAdjust="spacingAndGlyphs" >50</text>
<line x1="85.50" y1="1028.30" x2="88.70" y2="1028.30" stroke="#1c1c1c" stroke-width="1" />
<line x1="393.90" y1="1028.30" x2="390.70" y2="1028.30" stroke="#1c1c1c" stroke-width="1" />
<text x="59.29" y="1034.14" font-family="'Liberation Sans', sans-serif" font-size="16.50" font-weight="normal" fill="#404040" textLength="17.37" lengthAdjust="spacingAndGlyphs" >60</text>
<rect x="98.6" y="1038.4" width="103.30000000000001" height="64.79999999999995" fill="#fff" stroke="#1c1c1c" stroke-width="1.1"/>
<circle cx="129.5" cy="1050.9" r="5.2" fill="none" stroke="#111" stroke-width="1.15"/>
<line x1="104.60" y1="1070.50" x2="155.60" y2="1070.50" stroke="#6b6b6b" stroke-width="2.8" />
<line x1="104.00" y1="1091.50" x2="153.00" y2="1091.50" stroke="#666" stroke-width="0.9" stroke-dasharray="2.6 2.4"/>
<text x="160.07" y="1056.70" font-family="'Liberation Sans', sans-serif" font-size="13.00" font-weight="normal" fill="#262626" textLength="30.38" lengthAdjust="spacingAndGlyphs" >Data</text>
<text x="160.18" y="1077.60" font-family="'Liberation Sans', sans-serif" font-size="13.00" font-weight="normal" fill="#262626" textLength="14.44" lengthAdjust="spacingAndGlyphs" >Fit</text>
<text x="160.93" y="1098.50" font-family="'Liberation Sans', sans-serif" font-size="13.00" font-weight="normal" fill="#262626" textLength="35.05" lengthAdjust="spacingAndGlyphs" >Y = T</text>
<text x="169.93" y="1014.80" font-family="'Liberation Sans', sans-serif" font-size="19.50" font-weight="bold" fill="#000" textLength="141.73" lengthAdjust="spacingAndGlyphs" >All: R=0.96247</text>
<text x="209.92" y="1382.50" font-family="'Liberation Sans', sans-serif" font-size="20.50" font-weight="bold" fill="#262626" textLength="61.87" lengthAdjust="spacingAndGlyphs" >Target</text>
<text transform="translate(49.30 1302.45) rotate(-90)" x="-0.85" y="0" font-family="'Liberation Sans', sans-serif" font-size="20.50" font-weight="bold" fill="#262626" textLength="249.42" lengthAdjust="spacingAndGlyphs" >Output ~= 0.93*Target + 1</text>
<line x1="488.10" y1="332.40" x2="488.10" y2="329.20" stroke="#1c1c1c" stroke-width="1" />
<line x1="510.25" y1="332.40" x2="510.25" y2="329.20" stroke="#1c1c1c" stroke-width="1" />
<line x1="532.40" y1="332.40" x2="532.40" y2="329.20" stroke="#1c1c1c" stroke-width="1" />
<line x1="554.55" y1="332.40" x2="554.55" y2="329.20" stroke="#1c1c1c" stroke-width="1" />
<line x1="576.70" y1="332.40" x2="576.70" y2="329.20" stroke="#1c1c1c" stroke-width="1" />
<line x1="598.85" y1="332.40" x2="598.85" y2="329.20" stroke="#1c1c1c" stroke-width="1" />
<line x1="621.00" y1="332.40" x2="621.00" y2="329.20" stroke="#1c1c1c" stroke-width="1" />
<line x1="643.15" y1="332.40" x2="643.15" y2="329.20" stroke="#1c1c1c" stroke-width="1" />
<line x1="665.30" y1="332.40" x2="665.30" y2="329.20" stroke="#1c1c1c" stroke-width="1" />
<line x1="687.45" y1="332.40" x2="687.45" y2="329.20" stroke="#1c1c1c" stroke-width="1" />
<line x1="709.60" y1="332.40" x2="709.60" y2="329.20" stroke="#1c1c1c" stroke-width="1" />
<line x1="731.75" y1="332.40" x2="731.75" y2="329.20" stroke="#1c1c1c" stroke-width="1" />
<line x1="753.90" y1="332.40" x2="753.90" y2="329.20" stroke="#1c1c1c" stroke-width="1" />
<line x1="776.05" y1="332.40" x2="776.05" y2="329.20" stroke="#1c1c1c" stroke-width="1" />
<line x1="798.20" y1="332.40" x2="798.20" y2="329.20" stroke="#1c1c1c" stroke-width="1" />
<line x1="820.35" y1="332.40" x2="820.35" y2="329.20" stroke="#1c1c1c" stroke-width="1" />
<line x1="842.50" y1="332.40" x2="842.50" y2="329.20" stroke="#1c1c1c" stroke-width="1" />
<line x1="864.65" y1="332.40" x2="864.65" y2="329.20" stroke="#1c1c1c" stroke-width="1" />
<line x1="886.80" y1="332.40" x2="886.80" y2="329.20" stroke="#1c1c1c" stroke-width="1" />
<line x1="908.95" y1="332.40" x2="908.95" y2="329.20" stroke="#1c1c1c" stroke-width="1" />
<rect x="479.80" y="315.84" width="16.60" height="16.56" fill="#0000ff" stroke="#000" stroke-width="1"/>
<rect x="501.95" y="315.84" width="16.60" height="16.56" fill="#ff0000" stroke="#000" stroke-width="1"/>
<rect x="568.40" y="315.84" width="16.60" height="16.56" fill="#0000ff" stroke="#000" stroke-width="1"/>
<rect x="568.40" y="299.27" width="16.60" height="16.56" fill="#ff0000" stroke="#000" stroke-width="1"/>
<rect x="590.55" y="299.27" width="16.60" height="33.12" fill="#0000ff" stroke="#000" stroke-width="1"/>
<rect x="612.70" y="315.84" width="16.60" height="16.56" fill="#0000ff" stroke="#000" stroke-width="1"/>
<rect x="634.85" y="315.84" width="16.60" height="16.56" fill="#0000ff" stroke="#000" stroke-width="1"/>
<rect x="634.85" y="299.27" width="16.60" height="16.56" fill="#00cc00" stroke="#000" stroke-width="1"/>
<rect x="634.85" y="233.02" width="16.60" height="66.25" fill="#ff0000" stroke="#000" stroke-width="1"/>
<rect x="657.00" y="282.71" width="16.60" height="49.69" fill="#0000ff" stroke="#000" stroke-width="1"/>
<rect x="657.00" y="266.15" width="16.60" height="16.56" fill="#00cc00" stroke="#000" stroke-width="1"/>
<rect x="657.00" y="199.90" width="16.60" height="66.25" fill="#ff0000" stroke="#000" stroke-width="1"/>
<rect x="679.15" y="166.77" width="16.60" height="165.62" fill="#0000ff" stroke="#000" stroke-width="1"/>
<rect x="679.15" y="150.21" width="16.60" height="16.56" fill="#00cc00" stroke="#000" stroke-width="1"/>
<rect x="701.30" y="150.21" width="16.60" height="182.19" fill="#0000ff" stroke="#000" stroke-width="1"/>
<rect x="701.30" y="100.52" width="16.60" height="49.69" fill="#00cc00" stroke="#000" stroke-width="1"/>
<rect x="701.30" y="83.96" width="16.60" height="16.56" fill="#ff0000" stroke="#000" stroke-width="1"/>
<rect x="723.45" y="133.65" width="16.60" height="198.75" fill="#0000ff" stroke="#000" stroke-width="1"/>
<rect x="723.45" y="83.96" width="16.60" height="49.69" fill="#00cc00" stroke="#000" stroke-width="1"/>
<rect x="723.45" y="67.40" width="16.60" height="16.56" fill="#ff0000" stroke="#000" stroke-width="1"/>
<rect x="745.60" y="117.09" width="16.60" height="215.31" fill="#0000ff" stroke="#000" stroke-width="1"/>
<rect x="745.60" y="83.96" width="16.60" height="33.12" fill="#00cc00" stroke="#000" stroke-width="1"/>
<rect x="767.75" y="150.21" width="16.60" height="182.19" fill="#0000ff" stroke="#000" stroke-width="1"/>
<rect x="767.75" y="133.65" width="16.60" height="16.56" fill="#00cc00" stroke="#000" stroke-width="1"/>
<rect x="789.90" y="282.71" width="16.60" height="49.69" fill="#0000ff" stroke="#000" stroke-width="1"/>
<rect x="789.90" y="249.59" width="16.60" height="33.12" fill="#00cc00" stroke="#000" stroke-width="1"/>
<rect x="812.05" y="315.84" width="16.60" height="16.56" fill="#00cc00" stroke="#000" stroke-width="1"/>
<rect x="812.05" y="282.71" width="16.60" height="33.12" fill="#ff0000" stroke="#000" stroke-width="1"/>
<rect x="834.20" y="299.27" width="16.60" height="33.12" fill="#0000ff" stroke="#000" stroke-width="1"/>
<rect x="834.20" y="282.71" width="16.60" height="16.56" fill="#00cc00" stroke="#000" stroke-width="1"/>
<rect x="834.20" y="266.15" width="16.60" height="16.56" fill="#ff0000" stroke="#000" stroke-width="1"/>
<rect x="856.35" y="315.84" width="16.60" height="16.56" fill="#0000ff" stroke="#000" stroke-width="1"/>
<rect x="900.65" y="315.84" width="16.60" height="16.56" fill="#ff0000" stroke="#000" stroke-width="1"/>
<line x1="721.20" y1="41.40" x2="721.20" y2="332.40" stroke="#ff9c00" stroke-width="2.3" />
<line x1="477.60" y1="41.40" x2="477.60" y2="332.90" stroke="#1c1c1c" stroke-width="1.1" />
<line x1="477.10" y1="332.40" x2="919.30" y2="332.40" stroke="#1c1c1c" stroke-width="1.1" />
<line x1="477.60" y1="332.40" x2="480.80" y2="332.40" stroke="#1c1c1c" stroke-width="1" />
<text x="463.90" y="338.59" font-family="'Liberation Sans', sans-serif" font-size="12.40" font-weight="normal" fill="#404040" textLength="6.40" lengthAdjust="spacingAndGlyphs" >0</text>
<line x1="477.60" y1="299.27" x2="480.80" y2="299.27" stroke="#1c1c1c" stroke-width="1" />
<text x="464.07" y="305.46" font-family="'Liberation Sans', sans-serif" font-size="12.40" font-weight="normal" fill="#404040" textLength="6.35" lengthAdjust="spacingAndGlyphs" >2</text>
<line x1="477.60" y1="266.15" x2="480.80" y2="266.15" stroke="#1c1c1c" stroke-width="1" />
<text x="463.74" y="272.34" font-family="'Liberation Sans', sans-serif" font-size="12.40" font-weight="normal" fill="#404040" textLength="6.45" lengthAdjust="spacingAndGlyphs" >4</text>
<line x1="477.60" y1="233.02" x2="480.80" y2="233.02" stroke="#1c1c1c" stroke-width="1" />
<text x="463.99" y="239.21" font-family="'Liberation Sans', sans-serif" font-size="12.40" font-weight="normal" fill="#404040" textLength="6.36" lengthAdjust="spacingAndGlyphs" >6</text>
<line x1="477.60" y1="199.90" x2="480.80" y2="199.90" stroke="#1c1c1c" stroke-width="1" />
<text x="463.97" y="206.09" font-family="'Liberation Sans', sans-serif" font-size="12.40" font-weight="normal" fill="#404040" textLength="6.38" lengthAdjust="spacingAndGlyphs" >8</text>
<line x1="477.60" y1="166.77" x2="480.80" y2="166.77" stroke="#1c1c1c" stroke-width="1" />
<text x="456.45" y="172.96" font-family="'Liberation Sans', sans-serif" font-size="12.40" font-weight="normal" fill="#404040" textLength="13.89" lengthAdjust="spacingAndGlyphs" >10</text>
<line x1="477.60" y1="133.65" x2="480.80" y2="133.65" stroke="#1c1c1c" stroke-width="1" />
<text x="456.60" y="139.84" font-family="'Liberation Sans', sans-serif" font-size="12.40" font-weight="normal" fill="#404040" textLength="13.88" lengthAdjust="spacingAndGlyphs" >12</text>
<line x1="477.60" y1="100.52" x2="480.80" y2="100.52" stroke="#1c1c1c" stroke-width="1" />
<text x="456.31" y="106.71" font-family="'Liberation Sans', sans-serif" font-size="12.40" font-weight="normal" fill="#404040" textLength="13.90" lengthAdjust="spacingAndGlyphs" >14</text>
<line x1="477.60" y1="67.40" x2="480.80" y2="67.40" stroke="#1c1c1c" stroke-width="1" />
<text x="456.51" y="73.59" font-family="'Liberation Sans', sans-serif" font-size="12.40" font-weight="normal" fill="#404040" textLength="13.89" lengthAdjust="spacingAndGlyphs" >16</text>
<text transform="translate(493.90 374.01) rotate(-90)" x="-0.59" y="0" font-family="'Liberation Sans', sans-serif" font-size="12.40" font-weight="normal" fill="#262626" textLength="37.62" lengthAdjust="spacingAndGlyphs" >-9.012</text>
<text transform="translate(516.05 374.01) rotate(-90)" x="-0.59" y="0" font-family="'Liberation Sans', sans-serif" font-size="12.40" font-weight="normal" fill="#262626" textLength="37.62" lengthAdjust="spacingAndGlyphs" >-8.157</text>
<text transform="translate(538.20 374.03) rotate(-90)" x="-0.59" y="0" font-family="'Liberation Sans', sans-serif" font-size="12.40" font-weight="normal" fill="#262626" textLength="37.62" lengthAdjust="spacingAndGlyphs" >-7.301</text>
<text transform="translate(560.35 374.10) rotate(-90)" x="-0.59" y="0" font-family="'Liberation Sans', sans-serif" font-size="12.40" font-weight="normal" fill="#262626" textLength="37.62" lengthAdjust="spacingAndGlyphs" >-6.446</text>
<text transform="translate(582.50 374.03) rotate(-90)" x="-0.59" y="0" font-family="'Liberation Sans', sans-serif" font-size="12.40" font-weight="normal" fill="#262626" textLength="37.62" lengthAdjust="spacingAndGlyphs" >-5.591</text>
<text transform="translate(604.65 374.10) rotate(-90)" x="-0.59" y="0" font-family="'Liberation Sans', sans-serif" font-size="12.40" font-weight="normal" fill="#262626" textLength="37.62" lengthAdjust="spacingAndGlyphs" >-4.736</text>
<text transform="translate(626.80 374.03) rotate(-90)" x="-0.59" y="0" font-family="'Liberation Sans', sans-serif" font-size="12.40" font-weight="normal" fill="#262626" textLength="37.62" lengthAdjust="spacingAndGlyphs" >-3.881</text>
<text transform="translate(648.95 374.10) rotate(-90)" x="-0.59" y="0" font-family="'Liberation Sans', sans-serif" font-size="12.40" font-weight="normal" fill="#262626" textLength="37.62" lengthAdjust="spacingAndGlyphs" >-3.026</text>
<text transform="translate(671.10 374.03) rotate(-90)" x="-0.59" y="0" font-family="'Liberation Sans', sans-serif" font-size="12.40" font-weight="normal" fill="#262626" textLength="37.62" lengthAdjust="spacingAndGlyphs" >-2.171</text>
<text transform="translate(693.25 374.10) rotate(-90)" x="-0.59" y="0" font-family="'Liberation Sans', sans-serif" font-size="12.40" font-weight="normal" fill="#262626" textLength="37.62" lengthAdjust="spacingAndGlyphs" >-1.316</text>
<text transform="translate(715.40 374.03) rotate(-90)" x="-0.59" y="0" font-family="'Liberation Sans', sans-serif" font-size="12.40" font-weight="normal" fill="#262626" textLength="37.62" lengthAdjust="spacingAndGlyphs" >-0.461</text>
<text transform="translate(737.55 369.95) rotate(-90)" x="-0.52" y="0" font-family="'Liberation Sans', sans-serif" font-size="12.40" font-weight="normal" fill="#262626" textLength="33.20" lengthAdjust="spacingAndGlyphs" >0.394</text>
<text transform="translate(759.70 369.21) rotate(-90)" x="-1.01" y="0" font-family="'Liberation Sans', sans-serif" font-size="12.40" font-weight="normal" fill="#262626" textLength="33.20" lengthAdjust="spacingAndGlyphs" >1.249</text>
<text transform="translate(781.85 369.80) rotate(-90)" x="-0.67" y="0" font-family="'Liberation Sans', sans-serif" font-size="12.40" font-weight="normal" fill="#262626" textLength="33.20" lengthAdjust="spacingAndGlyphs" >2.104</text>
<text transform="translate(804.00 369.56) rotate(-90)" x="-0.67" y="0" font-family="'Liberation Sans', sans-serif" font-size="12.40" font-weight="normal" fill="#262626" textLength="33.20" lengthAdjust="spacingAndGlyphs" >2.959</text>
<text transform="translate(826.15 369.96) rotate(-90)" x="-0.51" y="0" font-family="'Liberation Sans', sans-serif" font-size="12.40" font-weight="normal" fill="#262626" textLength="33.20" lengthAdjust="spacingAndGlyphs" >3.814</text>
<text transform="translate(848.30 369.92) rotate(-90)" x="-0.30" y="0" font-family="'Liberation Sans', sans-serif" font-size="12.40" font-weight="normal" fill="#262626" textLength="33.20" lengthAdjust="spacingAndGlyphs" >4.669</text>
<text transform="translate(870.45 369.93) rotate(-90)" x="-0.53" y="0" font-family="'Liberation Sans', sans-serif" font-size="12.40" font-weight="normal" fill="#262626" textLength="33.20" lengthAdjust="spacingAndGlyphs" >5.524</text>
<text transform="translate(892.60 369.55) rotate(-90)" x="-0.67" y="0" font-family="'Liberation Sans', sans-serif" font-size="12.40" font-weight="normal" fill="#262626" textLength="33.20" lengthAdjust="spacingAndGlyphs" >6.379</text>
<text transform="translate(914.75 369.78) rotate(-90)" x="-0.68" y="0" font-family="'Liberation Sans', sans-serif" font-size="12.40" font-weight="normal" fill="#262626" textLength="33.20" lengthAdjust="spacingAndGlyphs" >7.234</text>
<rect x="773.3" y="52.2" width="135.0" height="68.0" fill="#fff" stroke="#1c1c1c" stroke-width="1.1"/>
<rect x="777.50" y="55.90" width="40.30" height="11.00" fill="#0000ff" stroke="#000" stroke-width="1"/>
<rect x="777.50" y="73.00" width="40.30" height="10.70" fill="#00cc00" stroke="#000" stroke-width="1"/>
<rect x="777.50" y="88.70" width="40.30" height="11.30" fill="#ff0000" stroke="#000" stroke-width="1"/>
<line x1="777.00" y1="111.40" x2="818.30" y2="111.40" stroke="#ff9c00" stroke-width="3" />
<text x="821.48" y="67.10" font-family="'Liberation Sans', sans-serif" font-size="12.00" font-weight="normal" fill="#141414" textLength="56.17" lengthAdjust="spacingAndGlyphs" >Train error</text>
<text x="821.70" y="84.00" font-family="'Liberation Sans', sans-serif" font-size="12.00" font-weight="normal" fill="#141414" textLength="81.05" lengthAdjust="spacingAndGlyphs" >Validation error</text>
<text x="821.48" y="100.10" font-family="'Liberation Sans', sans-serif" font-size="12.00" font-weight="normal" fill="#141414" textLength="51.80" lengthAdjust="spacingAndGlyphs" >Test error</text>
<text x="821.37" y="117.10" font-family="'Liberation Sans', sans-serif" font-size="12.00" font-weight="normal" fill="#141414" textLength="54.46" lengthAdjust="spacingAndGlyphs" >Zero Error</text>
<text x="585.96" y="34.40" font-family="'Liberation Sans', sans-serif" font-size="16.00" font-weight="bold" fill="#000" textLength="224.26" lengthAdjust="spacingAndGlyphs" >Error Histogram with 20 Bins</text>
<text x="672.08" y="403.90" font-family="'Liberation Sans', sans-serif" font-size="15.80" font-weight="bold" fill="#000" textLength="48.13" lengthAdjust="spacingAndGlyphs" >Errors</text>
<text transform="translate(447.70 222.55) rotate(-90)" x="-1.06" y="0" font-family="'Liberation Sans', sans-serif" font-size="15.80" font-weight="bold" fill="#000" textLength="73.01" lengthAdjust="spacingAndGlyphs" >Instances</text>
<line x1="490.00" y1="813.20" x2="490.00" y2="810.00" stroke="#1c1c1c" stroke-width="1" />
<line x1="511.85" y1="813.20" x2="511.85" y2="810.00" stroke="#1c1c1c" stroke-width="1" />
<line x1="533.70" y1="813.20" x2="533.70" y2="810.00" stroke="#1c1c1c" stroke-width="1" />
<line x1="555.55" y1="813.20" x2="555.55" y2="810.00" stroke="#1c1c1c" stroke-width="1" />
<line x1="577.40" y1="813.20" x2="577.40" y2="810.00" stroke="#1c1c1c" stroke-width="1" />
<line x1="599.25" y1="813.20" x2="599.25" y2="810.00" stroke="#1c1c1c" stroke-width="1" />
<line x1="621.10" y1="813.20" x2="621.10" y2="810.00" stroke="#1c1c1c" stroke-width="1" />
<line x1="642.95" y1="813.20" x2="642.95" y2="810.00" stroke="#1c1c1c" stroke-width="1" />
<line x1="664.80" y1="813.20" x2="664.80" y2="810.00" stroke="#1c1c1c" stroke-width="1" />
<line x1="686.65" y1="813.20" x2="686.65" y2="810.00" stroke="#1c1c1c" stroke-width="1" />
<line x1="708.50" y1="813.20" x2="708.50" y2="810.00" stroke="#1c1c1c" stroke-width="1" />
<line x1="730.35" y1="813.20" x2="730.35" y2="810.00" stroke="#1c1c1c" stroke-width="1" />
<line x1="752.20" y1="813.20" x2="752.20" y2="810.00" stroke="#1c1c1c" stroke-width="1" />
<line x1="774.05" y1="813.20" x2="774.05" y2="810.00" stroke="#1c1c1c" stroke-width="1" />
<line x1="795.90" y1="813.20" x2="795.90" y2="810.00" stroke="#1c1c1c" stroke-width="1" />
<line x1="817.75" y1="813.20" x2="817.75" y2="810.00" stroke="#1c1c1c" stroke-width="1" />
<line x1="839.60" y1="813.20" x2="839.60" y2="810.00" stroke="#1c1c1c" stroke-width="1" />
<line x1="861.45" y1="813.20" x2="861.45" y2="810.00" stroke="#1c1c1c" stroke-width="1" />
<line x1="883.30" y1="813.20" x2="883.30" y2="810.00" stroke="#1c1c1c" stroke-width="1" />
<line x1="905.15" y1="813.20" x2="905.15" y2="810.00" stroke="#1c1c1c" stroke-width="1" />
<rect x="481.80" y="799.95" width="16.40" height="13.25" fill="#0000ff" stroke="#000" stroke-width="1"/>
<rect x="503.65" y="799.95" width="16.40" height="13.25" fill="#0000ff" stroke="#000" stroke-width="1"/>
<rect x="547.35" y="799.95" width="16.40" height="13.25" fill="#ff0000" stroke="#000" stroke-width="1"/>
<rect x="569.20" y="786.70" width="16.40" height="26.50" fill="#0000ff" stroke="#000" stroke-width="1"/>
<rect x="569.20" y="773.45" width="16.40" height="13.25" fill="#00cc00" stroke="#000" stroke-width="1"/>
<rect x="591.05" y="786.70" width="16.40" height="26.50" fill="#0000ff" stroke="#000" stroke-width="1"/>
<rect x="591.05" y="773.45" width="16.40" height="13.25" fill="#00cc00" stroke="#000" stroke-width="1"/>
<rect x="612.90" y="746.95" width="16.40" height="66.25" fill="#0000ff" stroke="#000" stroke-width="1"/>
<rect x="612.90" y="733.70" width="16.40" height="13.25" fill="#00cc00" stroke="#000" stroke-width="1"/>
<rect x="634.75" y="760.20" width="16.40" height="53.00" fill="#0000ff" stroke="#000" stroke-width="1"/>
<rect x="634.75" y="733.70" width="16.40" height="26.50" fill="#00cc00" stroke="#000" stroke-width="1"/>
<rect x="634.75" y="707.20" width="16.40" height="26.50" fill="#ff0000" stroke="#000" stroke-width="1"/>
<rect x="656.60" y="680.70" width="16.40" height="132.50" fill="#0000ff" stroke="#000" stroke-width="1"/>
<rect x="656.60" y="667.45" width="16.40" height="13.25" fill="#00cc00" stroke="#000" stroke-width="1"/>
<rect x="656.60" y="640.95" width="16.40" height="26.50" fill="#ff0000" stroke="#000" stroke-width="1"/>
<rect x="678.45" y="733.70" width="16.40" height="79.50" fill="#0000ff" stroke="#000" stroke-width="1"/>
<rect x="678.45" y="680.70" width="16.40" height="53.00" fill="#00cc00" stroke="#000" stroke-width="1"/>
<rect x="678.45" y="601.20" width="16.40" height="79.50" fill="#ff0000" stroke="#000" stroke-width="1"/>
<rect x="700.30" y="614.45" width="16.40" height="198.75" fill="#0000ff" stroke="#000" stroke-width="1"/>
<rect x="700.30" y="587.95" width="16.40" height="26.50" fill="#00cc00" stroke="#000" stroke-width="1"/>
<rect x="700.30" y="548.20" width="16.40" height="39.75" fill="#ff0000" stroke="#000" stroke-width="1"/>
<rect x="722.15" y="707.20" width="16.40" height="106.00" fill="#0000ff" stroke="#000" stroke-width="1"/>
<rect x="722.15" y="680.70" width="16.40" height="26.50" fill="#00cc00" stroke="#000" stroke-width="1"/>
<rect x="744.00" y="720.45" width="16.40" height="92.75" fill="#0000ff" stroke="#000" stroke-width="1"/>
<rect x="744.00" y="707.20" width="16.40" height="13.25" fill="#00cc00" stroke="#000" stroke-width="1"/>
<rect x="765.85" y="733.70" width="16.40" height="79.50" fill="#0000ff" stroke="#000" stroke-width="1"/>
<rect x="765.85" y="720.45" width="16.40" height="13.25" fill="#00cc00" stroke="#000" stroke-width="1"/>
<rect x="787.70" y="786.70" width="16.40" height="26.50" fill="#0000ff" stroke="#000" stroke-width="1"/>
<rect x="809.55" y="799.95" width="16.40" height="13.25" fill="#0000ff" stroke="#000" stroke-width="1"/>
<rect x="831.40" y="799.95" width="16.40" height="13.25" fill="#ff0000" stroke="#000" stroke-width="1"/>
<rect x="853.25" y="799.95" width="16.40" height="13.25" fill="#0000ff" stroke="#000" stroke-width="1"/>
<rect x="875.10" y="799.95" width="16.40" height="13.25" fill="#ff0000" stroke="#000" stroke-width="1"/>
<rect x="896.95" y="799.95" width="16.40" height="13.25" fill="#0000ff" stroke="#000" stroke-width="1"/>
<line x1="692.20" y1="522.50" x2="692.20" y2="813.20" stroke="#ff9c00" stroke-width="2.3" />
<line x1="479.50" y1="522.50" x2="479.50" y2="813.70" stroke="#1c1c1c" stroke-width="1.1" />
<line x1="479.00" y1="813.20" x2="915.40" y2="813.20" stroke="#1c1c1c" stroke-width="1.1" />
<line x1="479.50" y1="813.20" x2="482.70" y2="813.20" stroke="#1c1c1c" stroke-width="1" />
<text x="465.60" y="819.39" font-family="'Liberation Sans', sans-serif" font-size="12.40" font-weight="normal" fill="#404040" textLength="6.40" lengthAdjust="spacingAndGlyphs" >0</text>
<line x1="479.50" y1="746.95" x2="482.70" y2="746.95" stroke="#1c1c1c" stroke-width="1" />
<text x="465.64" y="753.14" font-family="'Liberation Sans', sans-serif" font-size="12.40" font-weight="normal" fill="#404040" textLength="6.39" lengthAdjust="spacingAndGlyphs" >5</text>
<line x1="479.50" y1="680.70" x2="482.70" y2="680.70" stroke="#1c1c1c" stroke-width="1" />
<text x="458.15" y="686.89" font-family="'Liberation Sans', sans-serif" font-size="12.40" font-weight="normal" fill="#404040" textLength="13.89" lengthAdjust="spacingAndGlyphs" >10</text>
<line x1="479.50" y1="614.45" x2="482.70" y2="614.45" stroke="#1c1c1c" stroke-width="1" />
<text x="458.19" y="620.64" font-family="'Liberation Sans', sans-serif" font-size="12.40" font-weight="normal" fill="#404040" textLength="13.89" lengthAdjust="spacingAndGlyphs" >15</text>
<line x1="479.50" y1="548.20" x2="482.70" y2="548.20" stroke="#1c1c1c" stroke-width="1" />
<text x="458.12" y="554.39" font-family="'Liberation Sans', sans-serif" font-size="12.40" font-weight="normal" fill="#404040" textLength="13.92" lengthAdjust="spacingAndGlyphs" >20</text>
<text transform="translate(495.80 859.25) rotate(-90)" x="-0.59" y="0" font-family="'Liberation Sans', sans-serif" font-size="12.40" font-weight="normal" fill="#262626" textLength="37.62" lengthAdjust="spacingAndGlyphs" >-8.119</text>
<text transform="translate(517.65 859.30) rotate(-90)" x="-0.59" y="0" font-family="'Liberation Sans', sans-serif" font-size="12.40" font-weight="normal" fill="#262626" textLength="37.62" lengthAdjust="spacingAndGlyphs" >-7.243</text>
<text transform="translate(539.50 859.30) rotate(-90)" x="-0.59" y="0" font-family="'Liberation Sans', sans-serif" font-size="12.40" font-weight="normal" fill="#262626" textLength="37.62" lengthAdjust="spacingAndGlyphs" >-6.368</text>
<text transform="translate(561.35 859.21) rotate(-90)" x="-0.59" y="0" font-family="'Liberation Sans', sans-serif" font-size="12.40" font-weight="normal" fill="#262626" textLength="37.62" lengthAdjust="spacingAndGlyphs" >-5.492</text>
<text transform="translate(583.20 859.30) rotate(-90)" x="-0.59" y="0" font-family="'Liberation Sans', sans-serif" font-size="12.40" font-weight="normal" fill="#262626" textLength="37.62" lengthAdjust="spacingAndGlyphs" >-4.616</text>
<text transform="translate(605.05 859.23) rotate(-90)" x="-0.59" y="0" font-family="'Liberation Sans', sans-serif" font-size="12.40" font-weight="normal" fill="#262626" textLength="37.62" lengthAdjust="spacingAndGlyphs" >-3.741</text>
<text transform="translate(626.90 859.32) rotate(-90)" x="-0.59" y="0" font-family="'Liberation Sans', sans-serif" font-size="12.40" font-weight="normal" fill="#262626" textLength="37.62" lengthAdjust="spacingAndGlyphs" >-2.865</text>
<text transform="translate(648.75 859.25) rotate(-90)" x="-0.59" y="0" font-family="'Liberation Sans', sans-serif" font-size="12.40" font-weight="normal" fill="#262626" textLength="37.62" lengthAdjust="spacingAndGlyphs" >-1.989</text>
<text transform="translate(670.60 859.49) rotate(-90)" x="-0.59" y="0" font-family="'Liberation Sans', sans-serif" font-size="12.40" font-weight="normal" fill="#262626" textLength="37.62" lengthAdjust="spacingAndGlyphs" >-1.114</text>
<text transform="translate(692.45 866.68) rotate(-90)" x="-0.59" y="0" font-family="'Liberation Sans', sans-serif" font-size="12.40" font-weight="normal" fill="#262626" textLength="45.00" lengthAdjust="spacingAndGlyphs" >-0.2378</text>
<text transform="translate(714.30 862.28) rotate(-90)" x="-0.52" y="0" font-family="'Liberation Sans', sans-serif" font-size="12.40" font-weight="normal" fill="#262626" textLength="40.58" lengthAdjust="spacingAndGlyphs" >0.6379</text>
<text transform="translate(736.15 854.65) rotate(-90)" x="-1.01" y="0" font-family="'Liberation Sans', sans-serif" font-size="12.40" font-weight="normal" fill="#262626" textLength="33.20" lengthAdjust="spacingAndGlyphs" >1.514</text>
<text transform="translate(758.00 854.76) rotate(-90)" x="-0.67" y="0" font-family="'Liberation Sans', sans-serif" font-size="12.40" font-weight="normal" fill="#262626" textLength="33.20" lengthAdjust="spacingAndGlyphs" >2.389</text>
<text transform="translate(779.85 854.99) rotate(-90)" x="-0.51" y="0" font-family="'Liberation Sans', sans-serif" font-size="12.40" font-weight="normal" fill="#262626" textLength="33.20" lengthAdjust="spacingAndGlyphs" >3.265</text>
<text transform="translate(801.70 855.10) rotate(-90)" x="-0.30" y="0" font-family="'Liberation Sans', sans-serif" font-size="12.40" font-weight="normal" fill="#262626" textLength="33.20" lengthAdjust="spacingAndGlyphs" >4.141</text>
<text transform="translate(823.55 854.94) rotate(-90)" x="-0.53" y="0" font-family="'Liberation Sans', sans-serif" font-size="12.40" font-weight="normal" fill="#262626" textLength="33.20" lengthAdjust="spacingAndGlyphs" >5.016</text>
<text transform="translate(845.40 854.85) rotate(-90)" x="-0.53" y="0" font-family="'Liberation Sans', sans-serif" font-size="12.40" font-weight="normal" fill="#262626" textLength="33.20" lengthAdjust="spacingAndGlyphs" >5.892</text>
<text transform="translate(867.25 854.80) rotate(-90)" x="-0.67" y="0" font-family="'Liberation Sans', sans-serif" font-size="12.40" font-weight="normal" fill="#262626" textLength="33.20" lengthAdjust="spacingAndGlyphs" >6.768</text>
<text transform="translate(889.10 854.98) rotate(-90)" x="-0.68" y="0" font-family="'Liberation Sans', sans-serif" font-size="12.40" font-weight="normal" fill="#262626" textLength="33.20" lengthAdjust="spacingAndGlyphs" >7.644</text>
<text transform="translate(910.95 854.85) rotate(-90)" x="-0.58" y="0" font-family="'Liberation Sans', sans-serif" font-size="12.40" font-weight="normal" fill="#262626" textLength="33.20" lengthAdjust="spacingAndGlyphs" >8.519</text>
<rect x="771.2" y="533.3" width="133.69999999999993" height="68.20000000000005" fill="#fff" stroke="#1c1c1c" stroke-width="1.1"/>
<rect x="775.70" y="537.00" width="40.10" height="11.20" fill="#0000ff" stroke="#000" stroke-width="1"/>
<rect x="775.70" y="554.00" width="40.10" height="10.80" fill="#00cc00" stroke="#000" stroke-width="1"/>
<rect x="775.70" y="570.00" width="40.10" height="10.80" fill="#ff0000" stroke="#000" stroke-width="1"/>
<line x1="775.20" y1="592.60" x2="816.30" y2="592.60" stroke="#ff9c00" stroke-width="3" />
<text x="819.69" y="548.30" font-family="'Liberation Sans', sans-serif" font-size="12.00" font-weight="normal" fill="#141414" textLength="54.68" lengthAdjust="spacingAndGlyphs" >Train error</text>
<text x="819.90" y="565.10" font-family="'Liberation Sans', sans-serif" font-size="12.00" font-weight="normal" fill="#141414" textLength="79.45" lengthAdjust="spacingAndGlyphs" >Validation error</text>
<text x="819.69" y="581.10" font-family="'Liberation Sans', sans-serif" font-size="12.00" font-weight="normal" fill="#141414" textLength="50.77" lengthAdjust="spacingAndGlyphs" >Test error</text>
<text x="819.58" y="598.30" font-family="'Liberation Sans', sans-serif" font-size="12.00" font-weight="normal" fill="#141414" textLength="53.38" lengthAdjust="spacingAndGlyphs" >Zero Error</text>
<text x="587.08" y="515.00" font-family="'Liberation Sans', sans-serif" font-size="16.00" font-weight="bold" fill="#000" textLength="220.12" lengthAdjust="spacingAndGlyphs" >Error Histogram with 20 Bins</text>
<text x="671.28" y="885.10" font-family="'Liberation Sans', sans-serif" font-size="15.80" font-weight="bold" fill="#000" textLength="48.13" lengthAdjust="spacingAndGlyphs" >Errors</text>
<text transform="translate(449.60 703.45) rotate(-90)" x="-1.05" y="0" font-family="'Liberation Sans', sans-serif" font-size="15.80" font-weight="bold" fill="#000" textLength="72.70" lengthAdjust="spacingAndGlyphs" >Instances</text>
<line x1="489.00" y1="1307.20" x2="489.00" y2="1304.00" stroke="#1c1c1c" stroke-width="1" />
<line x1="510.74" y1="1307.20" x2="510.74" y2="1304.00" stroke="#1c1c1c" stroke-width="1" />
<line x1="532.48" y1="1307.20" x2="532.48" y2="1304.00" stroke="#1c1c1c" stroke-width="1" />
<line x1="554.22" y1="1307.20" x2="554.22" y2="1304.00" stroke="#1c1c1c" stroke-width="1" />
<line x1="575.96" y1="1307.20" x2="575.96" y2="1304.00" stroke="#1c1c1c" stroke-width="1" />
<line x1="597.70" y1="1307.20" x2="597.70" y2="1304.00" stroke="#1c1c1c" stroke-width="1" />
<line x1="619.44" y1="1307.20" x2="619.44" y2="1304.00" stroke="#1c1c1c" stroke-width="1" />
<line x1="641.18" y1="1307.20" x2="641.18" y2="1304.00" stroke="#1c1c1c" stroke-width="1" />
<line x1="662.92" y1="1307.20" x2="662.92" y2="1304.00" stroke="#1c1c1c" stroke-width="1" />
<line x1="684.66" y1="1307.20" x2="684.66" y2="1304.00" stroke="#1c1c1c" stroke-width="1" />
<line x1="706.40" y1="1307.20" x2="706.40" y2="1304.00" stroke="#1c1c1c" stroke-width="1" />
<line x1="728.14" y1="1307.20" x2="728.14" y2="1304.00" stroke="#1c1c1c" stroke-width="1" />
<line x1="749.88" y1="1307.20" x2="749.88" y2="1304.00" stroke="#1c1c1c" stroke-width="1" />
<line x1="771.62" y1="1307.20" x2="771.62" y2="1304.00" stroke="#1c1c1c" stroke-width="1" />
<line x1="793.36" y1="1307.20" x2="793.36" y2="1304.00" stroke="#1c1c1c" stroke-width="1" />
<line x1="815.10" y1="1307.20" x2="815.10" y2="1304.00" stroke="#1c1c1c" stroke-width="1" />
<line x1="836.84" y1="1307.20" x2="836.84" y2="1304.00" stroke="#1c1c1c" stroke-width="1" />
<line x1="858.58" y1="1307.20" x2="858.58" y2="1304.00" stroke="#1c1c1c" stroke-width="1" />
<line x1="880.32" y1="1307.20" x2="880.32" y2="1304.00" stroke="#1c1c1c" stroke-width="1" />
<line x1="902.06" y1="1307.20" x2="902.06" y2="1304.00" stroke="#1c1c1c" stroke-width="1" />
<rect x="480.80" y="1294.62" width="16.40" height="12.59" fill="#0000ff" stroke="#000" stroke-width="1"/>
<rect x="546.02" y="1294.62" width="16.40" height="12.59" fill="#0000ff" stroke="#000" stroke-width="1"/>
<rect x="567.76" y="1244.28" width="16.40" height="62.92" fill="#0000ff" stroke="#000" stroke-width="1"/>
<rect x="567.76" y="1231.69" width="16.40" height="12.59" fill="#00cc00" stroke="#000" stroke-width="1"/>
<rect x="567.76" y="1219.11" width="16.40" height="12.59" fill="#ff0000" stroke="#000" stroke-width="1"/>
<rect x="589.50" y="1244.28" width="16.40" height="62.92" fill="#0000ff" stroke="#000" stroke-width="1"/>
<rect x="589.50" y="1219.11" width="16.40" height="25.17" fill="#00cc00" stroke="#000" stroke-width="1"/>
<rect x="589.50" y="1193.93" width="16.40" height="25.17" fill="#ff0000" stroke="#000" stroke-width="1"/>
<rect x="611.24" y="1231.69" width="16.40" height="75.51" fill="#0000ff" stroke="#000" stroke-width="1"/>
<rect x="611.24" y="1206.52" width="16.40" height="25.17" fill="#00cc00" stroke="#000" stroke-width="1"/>
<rect x="632.98" y="1206.52" width="16.40" height="100.68" fill="#0000ff" stroke="#000" stroke-width="1"/>
<rect x="632.98" y="1181.35" width="16.40" height="25.17" fill="#00cc00" stroke="#000" stroke-width="1"/>
<rect x="632.98" y="1168.77" width="16.40" height="12.59" fill="#ff0000" stroke="#000" stroke-width="1"/>
<rect x="654.72" y="1181.35" width="16.40" height="125.85" fill="#0000ff" stroke="#000" stroke-width="1"/>
<rect x="654.72" y="1168.77" width="16.40" height="12.59" fill="#00cc00" stroke="#000" stroke-width="1"/>
<rect x="654.72" y="1156.18" width="16.40" height="12.59" fill="#ff0000" stroke="#000" stroke-width="1"/>
<rect x="676.46" y="1105.84" width="16.40" height="201.36" fill="#0000ff" stroke="#000" stroke-width="1"/>
<rect x="676.46" y="1042.91" width="16.40" height="62.93" fill="#ff0000" stroke="#000" stroke-width="1"/>
<rect x="698.20" y="1181.35" width="16.40" height="125.85" fill="#0000ff" stroke="#000" stroke-width="1"/>
<rect x="698.20" y="1168.77" width="16.40" height="12.59" fill="#ff0000" stroke="#000" stroke-width="1"/>
<rect x="719.94" y="1256.86" width="16.40" height="50.34" fill="#0000ff" stroke="#000" stroke-width="1"/>
<rect x="719.94" y="1206.52" width="16.40" height="50.34" fill="#00cc00" stroke="#000" stroke-width="1"/>
<rect x="719.94" y="1193.93" width="16.40" height="12.59" fill="#ff0000" stroke="#000" stroke-width="1"/>
<rect x="741.68" y="1256.86" width="16.40" height="50.34" fill="#0000ff" stroke="#000" stroke-width="1"/>
<rect x="741.68" y="1244.28" width="16.40" height="12.59" fill="#00cc00" stroke="#000" stroke-width="1"/>
<rect x="763.42" y="1282.03" width="16.40" height="25.17" fill="#0000ff" stroke="#000" stroke-width="1"/>
<rect x="763.42" y="1269.44" width="16.40" height="12.59" fill="#00cc00" stroke="#000" stroke-width="1"/>
<rect x="785.16" y="1294.62" width="16.40" height="12.59" fill="#00cc00" stroke="#000" stroke-width="1"/>
<rect x="785.16" y="1282.03" width="16.40" height="12.59" fill="#ff0000" stroke="#000" stroke-width="1"/>
<rect x="806.90" y="1282.03" width="16.40" height="25.17" fill="#ff0000" stroke="#000" stroke-width="1"/>
<rect x="828.64" y="1294.62" width="16.40" height="12.59" fill="#ff0000" stroke="#000" stroke-width="1"/>
<rect x="893.86" y="1294.62" width="16.40" height="12.59" fill="#00cc00" stroke="#000" stroke-width="1"/>
<line x1="664.30" y1="1016.40" x2="664.30" y2="1307.20" stroke="#ff9c00" stroke-width="2.3" />
<line x1="478.60" y1="1016.40" x2="478.60" y2="1307.70" stroke="#1c1c1c" stroke-width="1.1" />
<line x1="478.10" y1="1307.20" x2="912.70" y2="1307.20" stroke="#1c1c1c" stroke-width="1.1" />
<line x1="478.60" y1="1307.20" x2="481.80" y2="1307.20" stroke="#1c1c1c" stroke-width="1" />
<text x="465.10" y="1313.39" font-family="'Liberation Sans', sans-serif" font-size="12.40" font-weight="normal" fill="#404040" textLength="6.40" lengthAdjust="spacingAndGlyphs" >0</text>
<line x1="478.60" y1="1244.28" x2="481.80" y2="1244.28" stroke="#1c1c1c" stroke-width="1" />
<text x="465.14" y="1250.46" font-family="'Liberation Sans', sans-serif" font-size="12.40" font-weight="normal" fill="#404040" textLength="6.39" lengthAdjust="spacingAndGlyphs" >5</text>
<line x1="478.60" y1="1181.35" x2="481.80" y2="1181.35" stroke="#1c1c1c" stroke-width="1" />
<text x="457.65" y="1187.54" font-family="'Liberation Sans', sans-serif" font-size="12.40" font-weight="normal" fill="#404040" textLength="13.89" lengthAdjust="spacingAndGlyphs" >10</text>
<line x1="478.60" y1="1118.42" x2="481.80" y2="1118.42" stroke="#1c1c1c" stroke-width="1" />
<text x="457.69" y="1124.61" font-family="'Liberation Sans', sans-serif" font-size="12.40" font-weight="normal" fill="#404040" textLength="13.89" lengthAdjust="spacingAndGlyphs" >15</text>
<line x1="478.60" y1="1055.50" x2="481.80" y2="1055.50" stroke="#1c1c1c" stroke-width="1" />
<text x="457.62" y="1061.69" font-family="'Liberation Sans', sans-serif" font-size="12.40" font-weight="normal" fill="#404040" textLength="13.92" lengthAdjust="spacingAndGlyphs" >20</text>
<text transform="translate(494.80 1352.43) rotate(-90)" x="-0.59" y="0" font-family="'Liberation Sans', sans-serif" font-size="12.40" font-weight="normal" fill="#262626" textLength="37.62" lengthAdjust="spacingAndGlyphs" >-4.781</text>
<text transform="translate(516.54 1352.50) rotate(-90)" x="-0.59" y="0" font-family="'Liberation Sans', sans-serif" font-size="12.40" font-weight="normal" fill="#262626" textLength="37.62" lengthAdjust="spacingAndGlyphs" >-4.186</text>
<text transform="translate(538.28 1345.07) rotate(-90)" x="-0.59" y="0" font-family="'Liberation Sans', sans-serif" font-size="12.40" font-weight="normal" fill="#262626" textLength="30.24" lengthAdjust="spacingAndGlyphs" >-3.59</text>
<text transform="translate(560.02 1352.52) rotate(-90)" x="-0.59" y="0" font-family="'Liberation Sans', sans-serif" font-size="12.40" font-weight="normal" fill="#262626" textLength="37.62" lengthAdjust="spacingAndGlyphs" >-2.995</text>
<text transform="translate(581.76 1352.45) rotate(-90)" x="-0.59" y="0" font-family="'Liberation Sans', sans-serif" font-size="12.40" font-weight="normal" fill="#262626" textLength="37.62" lengthAdjust="spacingAndGlyphs" >-2.399</text>
<text transform="translate(603.50 1352.69) rotate(-90)" x="-0.59" y="0" font-family="'Liberation Sans', sans-serif" font-size="12.40" font-weight="normal" fill="#262626" textLength="37.62" lengthAdjust="spacingAndGlyphs" >-1.804</text>
<text transform="translate(625.24 1352.50) rotate(-90)" x="-0.59" y="0" font-family="'Liberation Sans', sans-serif" font-size="12.40" font-weight="normal" fill="#262626" textLength="37.62" lengthAdjust="spacingAndGlyphs" >-1.208</text>
<text transform="translate(646.98 1359.88) rotate(-90)" x="-0.59" y="0" font-family="'Liberation Sans', sans-serif" font-size="12.40" font-weight="normal" fill="#262626" textLength="45.00" lengthAdjust="spacingAndGlyphs" >-0.6126</text>
<text transform="translate(668.72 1367.21) rotate(-90)" x="-0.59" y="0" font-family="'Liberation Sans', sans-serif" font-size="12.40" font-weight="normal" fill="#262626" textLength="52.38" lengthAdjust="spacingAndGlyphs" >-0.01709</text>
<text transform="translate(690.46 1355.72) rotate(-90)" x="-0.52" y="0" font-family="'Liberation Sans', sans-serif" font-size="12.40" font-weight="normal" fill="#262626" textLength="40.58" lengthAdjust="spacingAndGlyphs" >0.5784</text>
<text transform="translate(712.20 1347.85) rotate(-90)" x="-1.01" y="0" font-family="'Liberation Sans', sans-serif" font-size="12.40" font-weight="normal" fill="#262626" textLength="33.20" lengthAdjust="spacingAndGlyphs" >1.174</text>
<text transform="translate(733.94 1347.61) rotate(-90)" x="-1.01" y="0" font-family="'Liberation Sans', sans-serif" font-size="12.40" font-weight="normal" fill="#262626" textLength="33.20" lengthAdjust="spacingAndGlyphs" >1.769</text>
<text transform="translate(755.68 1348.03) rotate(-90)" x="-0.67" y="0" font-family="'Liberation Sans', sans-serif" font-size="12.40" font-weight="normal" fill="#262626" textLength="33.20" lengthAdjust="spacingAndGlyphs" >2.365</text>
<text transform="translate(777.42 1347.94) rotate(-90)" x="-0.67" y="0" font-family="'Liberation Sans', sans-serif" font-size="12.40" font-weight="normal" fill="#262626" textLength="33.20" lengthAdjust="spacingAndGlyphs" >2.961</text>
<text transform="translate(799.16 1348.16) rotate(-90)" x="-0.51" y="0" font-family="'Liberation Sans', sans-serif" font-size="12.40" font-weight="normal" fill="#262626" textLength="33.20" lengthAdjust="spacingAndGlyphs" >3.556</text>
<text transform="translate(820.90 1348.28) rotate(-90)" x="-0.30" y="0" font-family="'Liberation Sans', sans-serif" font-size="12.40" font-weight="normal" fill="#262626" textLength="33.20" lengthAdjust="spacingAndGlyphs" >4.152</text>
<text transform="translate(842.64 1348.28) rotate(-90)" x="-0.30" y="0" font-family="'Liberation Sans', sans-serif" font-size="12.40" font-weight="normal" fill="#262626" textLength="33.20" lengthAdjust="spacingAndGlyphs" >4.747</text>
<text transform="translate(864.38 1348.14) rotate(-90)" x="-0.53" y="0" font-family="'Liberation Sans', sans-serif" font-size="12.40" font-weight="normal" fill="#262626" textLength="33.20" lengthAdjust="spacingAndGlyphs" >5.343</text>
<text transform="translate(886.12 1348.14) rotate(-90)" x="-0.53" y="0" font-family="'Liberation Sans', sans-serif" font-size="12.40" font-weight="normal" fill="#262626" textLength="33.20" lengthAdjust="spacingAndGlyphs" >5.938</text>
<text transform="translate(907.86 1348.19) rotate(-90)" x="-0.67" y="0" font-family="'Liberation Sans', sans-serif" font-size="12.40" font-weight="normal" fill="#262626" textLength="33.20" lengthAdjust="spacingAndGlyphs" >6.534</text>
<rect x="769.4" y="1027.2" width="132.10000000000002" height="68.0" fill="#fff" stroke="#1c1c1c" stroke-width="1.1"/>
<rect x="773.90" y="1030.90" width="39.00" height="11.00" fill="#0000ff" stroke="#000" stroke-width="1"/>
<rect x="773.90" y="1048.00" width="39.00" height="10.70" fill="#00cc00" stroke="#000" stroke-width="1"/>
<rect x="773.90" y="1064.00" width="39.00" height="11.00" fill="#ff0000" stroke="#000" stroke-width="1"/>
<line x1="773.40" y1="1086.10" x2="813.40" y2="1086.10" stroke="#ff9c00" stroke-width="3" />
<text x="816.79" y="1042.10" font-family="'Liberation Sans', sans-serif" font-size="12.00" font-weight="normal" fill="#141414" textLength="54.68" lengthAdjust="spacingAndGlyphs" >Train error</text>
<text x="817.00" y="1059.10" font-family="'Liberation Sans', sans-serif" font-size="12.00" font-weight="normal" fill="#141414" textLength="79.45" lengthAdjust="spacingAndGlyphs" >Validation error</text>
<text x="816.79" y="1075.20" font-family="'Liberation Sans', sans-serif" font-size="12.00" font-weight="normal" fill="#141414" textLength="50.77" lengthAdjust="spacingAndGlyphs" >Test error</text>
<text x="816.68" y="1091.80" font-family="'Liberation Sans', sans-serif" font-size="12.00" font-weight="normal" fill="#141414" textLength="53.38" lengthAdjust="spacingAndGlyphs" >Zero Error</text>
<text x="585.98" y="1009.40" font-family="'Liberation Sans', sans-serif" font-size="16.00" font-weight="bold" fill="#000" textLength="219.52" lengthAdjust="spacingAndGlyphs" >Error Histogram with 20 Bins</text>
<text x="670.20" y="1378.80" font-family="'Liberation Sans', sans-serif" font-size="15.80" font-weight="bold" fill="#000" textLength="46.99" lengthAdjust="spacingAndGlyphs" >Errors</text>
<text transform="translate(449.60 1197.45) rotate(-90)" x="-1.06" y="0" font-family="'Liberation Sans', sans-serif" font-size="15.80" font-weight="bold" fill="#000" textLength="72.80" lengthAdjust="spacingAndGlyphs" >Instances</text>
<rect x="7.30" y="378.40" width="63.10" height="53.20" fill="#787071"/>
<rect x="10.10" y="380.80" width="57.20" height="48.00" fill="#1c9ad8"/>
<text x="26.12" y="413.90" font-family="'Liberation Serif', serif" font-size="22.80" font-weight="normal" fill="#000" textLength="16.70" lengthAdjust="spacingAndGlyphs" stroke="#000" stroke-width="0.12">A</text>
<text x="43.08" y="413.90" font-family="'Liberation Serif', serif" font-size="13.40" font-weight="normal" fill="#000" textLength="8.49" lengthAdjust="spacingAndGlyphs" stroke="#000" stroke-width="0.12">R</text>
<rect x="423.30" y="378.10" width="64.70" height="53.50" fill="#787071"/>
<rect x="428.80" y="380.80" width="56.60" height="47.00" fill="#1c9ad8"/>
<text x="444.13" y="413.90" font-family="'Liberation Serif', serif" font-size="22.80" font-weight="normal" fill="#000" textLength="16.49" lengthAdjust="spacingAndGlyphs" stroke="#000" stroke-width="0.12">A</text>
<text x="461.00" y="413.90" font-family="'Liberation Serif', serif" font-size="13.40" font-weight="normal" fill="#000" textLength="7.46" lengthAdjust="spacingAndGlyphs" stroke="#000" stroke-width="0.12">E</text>
<rect x="8.00" y="862.10" width="60.80" height="50.80" fill="#787071"/>
<rect x="12.10" y="864.90" width="54.10" height="43.10" fill="#1c9ad8"/>
<text x="27.79" y="898.10" font-family="'Liberation Serif', serif" font-size="22.80" font-weight="normal" fill="#000" textLength="12.90" lengthAdjust="spacingAndGlyphs" stroke="#000" stroke-width="0.12">B</text>
<text x="40.97" y="898.10" font-family="'Liberation Serif', serif" font-size="13.40" font-weight="normal" fill="#000" textLength="8.69" lengthAdjust="spacingAndGlyphs" stroke="#000" stroke-width="0.12">R</text>
<rect x="424.30" y="861.90" width="61.60" height="51.10" fill="#787071"/>
<rect x="429.90" y="864.80" width="53.30" height="44.30" fill="#1c9ad8"/>
<text x="445.79" y="898.90" font-family="'Liberation Serif', serif" font-size="22.80" font-weight="normal" fill="#000" textLength="12.90" lengthAdjust="spacingAndGlyphs" stroke="#000" stroke-width="0.12">B</text>
<text x="459.21" y="898.90" font-family="'Liberation Serif', serif" font-size="13.40" font-weight="normal" fill="#000" textLength="7.12" lengthAdjust="spacingAndGlyphs" stroke="#000" stroke-width="0.12">E</text>
<rect x="9.30" y="1356.50" width="60.20" height="50.10" fill="#787071"/>
<rect x="12.00" y="1359.00" width="55.20" height="44.10" fill="#1c9ad8"/>
<text x="27.39" y="1392.80" font-family="'Liberation Serif', serif" font-size="22.80" font-weight="normal" fill="#000" textLength="15.54" lengthAdjust="spacingAndGlyphs" stroke="#000" stroke-width="0.12">C</text>
<text x="43.08" y="1392.80" font-family="'Liberation Serif', serif" font-size="13.40" font-weight="normal" fill="#000" textLength="8.59" lengthAdjust="spacingAndGlyphs" stroke="#000" stroke-width="0.12">R</text>
<rect x="425.50" y="1353.10" width="59.20" height="54.30" fill="#787071"/>
<rect x="427.10" y="1356.00" width="54.20" height="48.00" fill="#1c9ad8"/>
<text x="442.39" y="1388.80" font-family="'Liberation Serif', serif" font-size="22.80" font-weight="normal" fill="#000" textLength="15.54" lengthAdjust="spacingAndGlyphs" stroke="#000" stroke-width="0.12">C</text>
<text x="458.11" y="1388.80" font-family="'Liberation Serif', serif" font-size="13.40" font-weight="normal" fill="#000" textLength="7.12" lengthAdjust="spacingAndGlyphs" stroke="#000" stroke-width="0.12">E</text>
<text x="452.14" y="454.60" font-family="'Liberation Serif', serif" font-size="22.00" font-weight="normal" fill="#000" textLength="7.26" lengthAdjust="spacingAndGlyphs" >(</text>
<text x="459.99" y="454.60" font-family="'Liberation Serif', serif" font-size="22.00" font-weight="bold" fill="#000" textLength="15.67" lengthAdjust="spacingAndGlyphs" >A</text>
<text x="476.03" y="454.60" font-family="'Liberation Serif', serif" font-size="22.00" font-weight="normal" fill="#000" textLength="6.87" lengthAdjust="spacingAndGlyphs" >)</text>
<text x="453.26" y="948.60" font-family="'Liberation Serif', serif" font-size="22.00" font-weight="normal" fill="#000" textLength="7.13" lengthAdjust="spacingAndGlyphs" >(</text>
<text x="461.09" y="948.60" font-family="'Liberation Serif', serif" font-size="22.00" font-weight="bold" fill="#000" textLength="12.64" lengthAdjust="spacingAndGlyphs" >B</text>
<text x="474.83" y="948.60" font-family="'Liberation Serif', serif" font-size="22.00" font-weight="normal" fill="#000" textLength="6.87" lengthAdjust="spacingAndGlyphs" >)</text>
<text x="452.54" y="1443.10" font-family="'Liberation Serif', serif" font-size="22.00" font-weight="normal" fill="#000" textLength="7.26" lengthAdjust="spacingAndGlyphs" >(</text>
<text x="460.30" y="1443.10" font-family="'Liberation Serif', serif" font-size="22.00" font-weight="bold" fill="#000" textLength="16.33" lengthAdjust="spacingAndGlyphs" >C</text>
<text x="475.73" y="1443.10" font-family="'Liberation Serif', serif" font-size="22.00" font-weight="normal" fill="#000" textLength="6.87" lengthAdjust="spacingAndGlyphs" >)</text>
</svg>
</body></html>
